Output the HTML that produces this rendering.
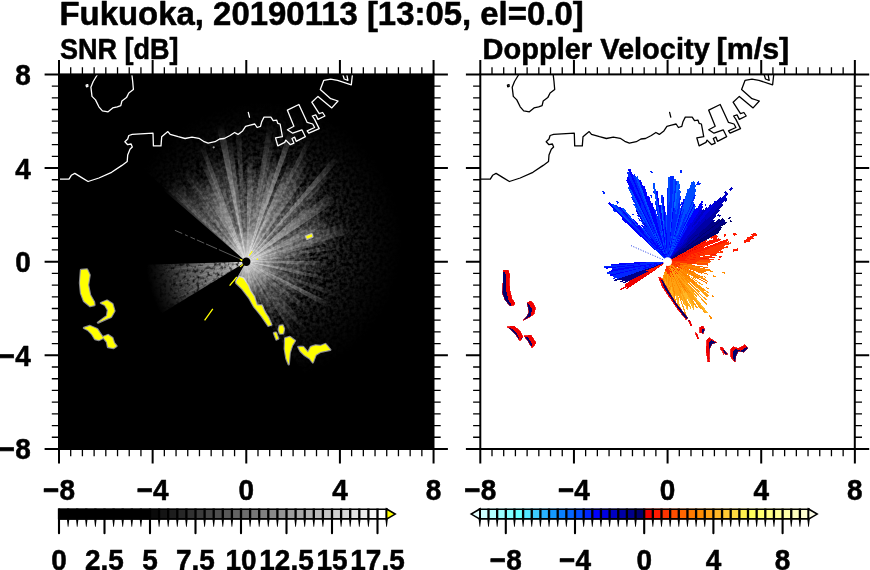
<!DOCTYPE html>
<html><head><meta charset="utf-8"><title>Fukuoka radar</title>
<style>html,body{margin:0;padding:0;background:#fff;overflow:hidden}svg{display:block}text{fill:#000}</style>
</head><body>
<svg width="870" height="570" viewBox="0 0 870 570">
<rect width="870" height="570" fill="#fff"/>
<rect x="59" y="74.4" width="374.5" height="374.6" fill="#000"/>
<rect x="480.3" y="74.4" width="374.5" height="374.6" fill="#fff"/>
<clipPath id="c1"><rect x="59" y="74.4" width="374.5" height="374.6"/></clipPath>
<clipPath id="c2"><rect x="480.3" y="74.4" width="374.5" height="374.6"/></clipPath>
<g clip-path="url(#c1)">
<radialGradient id="g50" gradientUnits="userSpaceOnUse" cx="246.3" cy="261.7" r="50"><stop offset="0" stop-color="#fff" stop-opacity="1.0"/><stop offset="0.04" stop-color="#fff" stop-opacity="0.97"/><stop offset="0.1" stop-color="#fff" stop-opacity="0.84"/><stop offset="0.2" stop-color="#fff" stop-opacity="0.7"/><stop offset="0.35" stop-color="#fff" stop-opacity="0.6"/><stop offset="0.5" stop-color="#fff" stop-opacity="0.5"/><stop offset="0.65" stop-color="#fff" stop-opacity="0.38"/><stop offset="0.8" stop-color="#fff" stop-opacity="0.23"/><stop offset="0.92" stop-color="#fff" stop-opacity="0.09"/><stop offset="1" stop-color="#fff" stop-opacity="0"/></radialGradient>
<radialGradient id="g65" gradientUnits="userSpaceOnUse" cx="246.3" cy="261.7" r="65"><stop offset="0" stop-color="#fff" stop-opacity="1.0"/><stop offset="0.04" stop-color="#fff" stop-opacity="0.97"/><stop offset="0.1" stop-color="#fff" stop-opacity="0.84"/><stop offset="0.2" stop-color="#fff" stop-opacity="0.7"/><stop offset="0.35" stop-color="#fff" stop-opacity="0.6"/><stop offset="0.5" stop-color="#fff" stop-opacity="0.5"/><stop offset="0.65" stop-color="#fff" stop-opacity="0.38"/><stop offset="0.8" stop-color="#fff" stop-opacity="0.23"/><stop offset="0.92" stop-color="#fff" stop-opacity="0.09"/><stop offset="1" stop-color="#fff" stop-opacity="0"/></radialGradient>
<radialGradient id="g80" gradientUnits="userSpaceOnUse" cx="246.3" cy="261.7" r="80"><stop offset="0" stop-color="#fff" stop-opacity="1.0"/><stop offset="0.04" stop-color="#fff" stop-opacity="0.97"/><stop offset="0.1" stop-color="#fff" stop-opacity="0.84"/><stop offset="0.2" stop-color="#fff" stop-opacity="0.7"/><stop offset="0.35" stop-color="#fff" stop-opacity="0.6"/><stop offset="0.5" stop-color="#fff" stop-opacity="0.5"/><stop offset="0.65" stop-color="#fff" stop-opacity="0.38"/><stop offset="0.8" stop-color="#fff" stop-opacity="0.23"/><stop offset="0.92" stop-color="#fff" stop-opacity="0.09"/><stop offset="1" stop-color="#fff" stop-opacity="0"/></radialGradient>
<radialGradient id="g95" gradientUnits="userSpaceOnUse" cx="246.3" cy="261.7" r="95"><stop offset="0" stop-color="#fff" stop-opacity="1.0"/><stop offset="0.04" stop-color="#fff" stop-opacity="0.97"/><stop offset="0.1" stop-color="#fff" stop-opacity="0.84"/><stop offset="0.2" stop-color="#fff" stop-opacity="0.7"/><stop offset="0.35" stop-color="#fff" stop-opacity="0.6"/><stop offset="0.5" stop-color="#fff" stop-opacity="0.5"/><stop offset="0.65" stop-color="#fff" stop-opacity="0.38"/><stop offset="0.8" stop-color="#fff" stop-opacity="0.23"/><stop offset="0.92" stop-color="#fff" stop-opacity="0.09"/><stop offset="1" stop-color="#fff" stop-opacity="0"/></radialGradient>
<radialGradient id="g110" gradientUnits="userSpaceOnUse" cx="246.3" cy="261.7" r="110"><stop offset="0" stop-color="#fff" stop-opacity="1.0"/><stop offset="0.04" stop-color="#fff" stop-opacity="0.97"/><stop offset="0.1" stop-color="#fff" stop-opacity="0.84"/><stop offset="0.2" stop-color="#fff" stop-opacity="0.7"/><stop offset="0.35" stop-color="#fff" stop-opacity="0.6"/><stop offset="0.5" stop-color="#fff" stop-opacity="0.5"/><stop offset="0.65" stop-color="#fff" stop-opacity="0.38"/><stop offset="0.8" stop-color="#fff" stop-opacity="0.23"/><stop offset="0.92" stop-color="#fff" stop-opacity="0.09"/><stop offset="1" stop-color="#fff" stop-opacity="0"/></radialGradient>
<radialGradient id="g125" gradientUnits="userSpaceOnUse" cx="246.3" cy="261.7" r="125"><stop offset="0" stop-color="#fff" stop-opacity="1.0"/><stop offset="0.04" stop-color="#fff" stop-opacity="0.97"/><stop offset="0.1" stop-color="#fff" stop-opacity="0.84"/><stop offset="0.2" stop-color="#fff" stop-opacity="0.7"/><stop offset="0.35" stop-color="#fff" stop-opacity="0.6"/><stop offset="0.5" stop-color="#fff" stop-opacity="0.5"/><stop offset="0.65" stop-color="#fff" stop-opacity="0.38"/><stop offset="0.8" stop-color="#fff" stop-opacity="0.23"/><stop offset="0.92" stop-color="#fff" stop-opacity="0.09"/><stop offset="1" stop-color="#fff" stop-opacity="0"/></radialGradient>
<radialGradient id="g140" gradientUnits="userSpaceOnUse" cx="246.3" cy="261.7" r="140"><stop offset="0" stop-color="#fff" stop-opacity="1.0"/><stop offset="0.04" stop-color="#fff" stop-opacity="0.97"/><stop offset="0.1" stop-color="#fff" stop-opacity="0.84"/><stop offset="0.2" stop-color="#fff" stop-opacity="0.7"/><stop offset="0.35" stop-color="#fff" stop-opacity="0.6"/><stop offset="0.5" stop-color="#fff" stop-opacity="0.5"/><stop offset="0.65" stop-color="#fff" stop-opacity="0.38"/><stop offset="0.8" stop-color="#fff" stop-opacity="0.23"/><stop offset="0.92" stop-color="#fff" stop-opacity="0.09"/><stop offset="1" stop-color="#fff" stop-opacity="0"/></radialGradient>
<radialGradient id="g160" gradientUnits="userSpaceOnUse" cx="246.3" cy="261.7" r="160"><stop offset="0" stop-color="#fff" stop-opacity="1.0"/><stop offset="0.04" stop-color="#fff" stop-opacity="0.97"/><stop offset="0.1" stop-color="#fff" stop-opacity="0.84"/><stop offset="0.2" stop-color="#fff" stop-opacity="0.7"/><stop offset="0.35" stop-color="#fff" stop-opacity="0.6"/><stop offset="0.5" stop-color="#fff" stop-opacity="0.5"/><stop offset="0.65" stop-color="#fff" stop-opacity="0.38"/><stop offset="0.8" stop-color="#fff" stop-opacity="0.23"/><stop offset="0.92" stop-color="#fff" stop-opacity="0.09"/><stop offset="1" stop-color="#fff" stop-opacity="0"/></radialGradient>
<radialGradient id="core" gradientUnits="userSpaceOnUse" cx="246.3" cy="261.7" r="34"><stop offset="0" stop-color="#fff" stop-opacity="0.7"/><stop offset="0.3" stop-color="#fff" stop-opacity="0.5"/><stop offset="0.65" stop-color="#fff" stop-opacity="0.25"/><stop offset="1" stop-color="#fff" stop-opacity="0"/></radialGradient>
<radialGradient id="glow" gradientUnits="userSpaceOnUse" cx="262.3" cy="241.7" r="140"><stop offset="0" stop-color="#fff" stop-opacity="0.3"/><stop offset="0.4" stop-color="#fff" stop-opacity="0.22"/><stop offset="0.62" stop-color="#fff" stop-opacity="0.12"/><stop offset="0.82" stop-color="#fff" stop-opacity="0.045"/><stop offset="1" stop-color="#fff" stop-opacity="0"/></radialGradient>
<filter id="grain" x="0" y="0" width="870" height="570" filterUnits="userSpaceOnUse"><feTurbulence type="fractalNoise" baseFrequency="0.3" numOctaves="2" seed="4" result="n"/><feColorMatrix in="n" type="matrix" values="0 0 0 0 0 0 0 0 0 0 0 0 0 0 0 2.6 0 0 0 -0.85" result="a"/><feComposite in="SourceGraphic" in2="a" operator="in"/></filter>
<clipPath id="cut"><path d="M0 0H870V570H445L239 281.8H0Z"/></clipPath>
<g clip-path="url(#cut)"><g filter="url(#grain)"><path d="M246.3 261.7L182.9 482.8A230 230 0 1 0 75.4 107.8Z" fill="url(#glow)"/></g></g>
<g clip-path="url(#cut)">
<path d="M246.3 261.7L226.4 307.6A50 50 0 0 0 229.1 308.6Z" fill="url(#g50)" fill-opacity="0.36"/>
<path d="M246.3 261.7L235.1 310.4A50 50 0 0 0 236.8 310.8Z" fill="url(#g50)" fill-opacity="0.43"/>
<path d="M246.3 261.7L246.6 311.7A50 50 0 0 0 249.3 311.6Z" fill="url(#g50)" fill-opacity="0.47"/>
<path d="M246.3 261.7L257.5 310.4A50 50 0 0 0 260.7 309.6Z" fill="url(#g50)" fill-opacity="0.51"/>
<path d="M246.3 261.7L241 311.4A50 50 0 0 0 243.6 311.6Z" fill="url(#g50)" fill-opacity="0.54"/>
<path d="M246.3 261.7L223.1 306A50 50 0 0 0 225.1 307Z" fill="url(#g50)" fill-opacity="0.57"/>
<path d="M246.3 261.7L233.9 310.1A50 50 0 0 0 235.3 310.5Z" fill="url(#g50)" fill-opacity="0.58"/>
<path d="M246.3 261.7L231.5 309.5A50 50 0 0 0 234.1 310.2Z" fill="url(#g50)" fill-opacity="0.62"/>
<path d="M246.3 261.7L238.8 311.1A50 50 0 0 0 241.1 311.4Z" fill="url(#g50)" fill-opacity="0.63"/>
<path d="M246.3 261.7L260.5 309.6A50 50 0 0 0 263 308.8Z" fill="url(#g50)" fill-opacity="0.7"/>
<path d="M246.3 261.7L251 311.5A50 50 0 0 0 253.1 311.2ZM246.3 261.7L252.9 311.2A50 50 0 0 0 256.1 310.7Z" fill="url(#g50)" fill-opacity="0.73"/>
<path d="M246.3 261.7L255.9 310.7A50 50 0 0 0 257.7 310.4Z" fill="url(#g50)" fill-opacity="0.77"/>
<path d="M246.3 261.7L250 326.6A65 65 0 0 0 252.5 326.4ZM246.3 261.7L308.7 279.8A65 65 0 0 0 309.6 276.3Z" fill="url(#g65)" fill-opacity="0.35"/>
<path d="M246.3 261.7L269.5 322.4A65 65 0 0 0 272.9 321ZM246.3 261.7L278 318.4A65 65 0 0 0 280.9 316.7Z" fill="url(#g65)" fill-opacity="0.37"/>
<path d="M246.3 261.7L298.6 300.3A65 65 0 0 0 300.8 297Z" fill="url(#g65)" fill-opacity="0.41"/>
<path d="M246.3 261.7L291.1 308.7A65 65 0 0 0 293 306.9ZM246.3 261.7L307.8 282.7A65 65 0 0 0 308.8 279.6Z" fill="url(#g65)" fill-opacity="0.46"/>
<path d="M246.3 261.7L294.1 305.7A65 65 0 0 0 296.2 303.3Z" fill="url(#g65)" fill-opacity="0.5"/>
<path d="M246.3 261.7L304.7 290.2A65 65 0 0 0 306 287.3Z" fill="url(#g65)" fill-opacity="0.52"/>
<path d="M246.3 261.7L233.8 325.5A65 65 0 0 0 236.7 326Z" fill="url(#g65)" fill-opacity="0.53"/>
<path d="M246.3 261.7L218.6 320.5A65 65 0 0 0 220.6 321.4Z" fill="url(#g65)" fill-opacity="0.57"/>
<path d="M246.3 261.7L213.8 318A65 65 0 0 0 216.3 319.4ZM246.3 261.7L274.4 320.3A65 65 0 0 0 276.4 319.3Z" fill="url(#g65)" fill-opacity="0.59"/>
<path d="M246.3 261.7L292.9 307A65 65 0 0 0 294.2 305.6ZM246.3 261.7L311.3 261.2A65 65 0 0 0 311.2 257.7Z" fill="url(#g65)" fill-opacity="0.6"/>
<path d="M246.3 261.7L276.2 319.4A65 65 0 0 0 278.2 318.3Z" fill="url(#g65)" fill-opacity="0.68"/>
<path d="M246.3 261.7L223.8 322.7A65 65 0 0 0 225.7 323.3ZM246.3 261.7L300.7 297.2A65 65 0 0 0 302.8 293.7Z" fill="url(#g65)" fill-opacity="0.72"/>
<path d="M246.3 261.7L310.2 273.6A65 65 0 0 0 310.6 271.2Z" fill="url(#g65)" fill-opacity="0.77"/>
<path d="M246.3 261.7L306 287.4A65 65 0 0 0 306.7 285.7ZM246.3 261.7L311 256.2A65 65 0 0 0 310.7 252.7Z" fill="url(#g65)" fill-opacity="0.79"/>
<path d="M246.3 261.7L225.5 323.3A65 65 0 0 0 227.3 323.8Z" fill="url(#g65)" fill-opacity="0.8"/>
<path d="M246.3 261.7L242.6 326.6A65 65 0 0 0 246.9 326.7ZM246.3 261.7L310.2 249.7A65 65 0 0 0 309.7 247.2Z" fill="url(#g65)" fill-opacity="0.81"/>
<path d="M246.3 261.7L278.8 334.8A80 80 0 0 0 281.1 333.7Z" fill="url(#g80)" fill-opacity="0.34"/>
<path d="M246.3 261.7L325.9 269.4A80 80 0 0 0 326.2 265.5Z" fill="url(#g80)" fill-opacity="0.38"/>
<path d="M246.3 261.7L325.7 271.6A80 80 0 0 0 325.9 269.2Z" fill="url(#g80)" fill-opacity="0.4"/>
<path d="M246.3 261.7L299.6 321.3A80 80 0 0 0 301.6 319.4Z" fill="url(#g80)" fill-opacity="0.44"/>
<path d="M246.3 261.7L325.4 273.6A80 80 0 0 0 325.7 271.4Z" fill="url(#g80)" fill-opacity="0.45"/>
<path d="M246.3 261.7L290.9 328.1A80 80 0 0 0 294.7 325.4Z" fill="url(#g80)" fill-opacity="0.47"/>
<path d="M246.3 261.7L294.5 325.5A80 80 0 0 0 296.7 323.8Z" fill="url(#g80)" fill-opacity="0.51"/>
<path d="M246.3 261.7L307.6 313A80 80 0 0 0 310.8 309Z" fill="url(#g80)" fill-opacity="0.55"/>
<path d="M246.3 261.7L324.2 279.9A80 80 0 0 0 325 276.1Z" fill="url(#g80)" fill-opacity="0.74"/>
<path d="M246.3 261.7L326.2 265.7A80 80 0 0 0 326.3 260.8Z" fill="url(#g80)" fill-opacity="0.8"/>
<path d="M246.3 261.7L341.1 256.1A95 95 0 0 0 340.9 253.4Z" fill="url(#g95)" fill-opacity="0.32"/>
<path d="M246.3 261.7L306 335.6A95 95 0 0 0 309.8 332.4Z" fill="url(#g95)" fill-opacity="0.36"/>
<path d="M246.3 261.7L327.7 212.7A95 95 0 0 0 325.1 208.7ZM246.3 261.7L247.8 166.7A95 95 0 0 0 242.3 166.8Z" fill="url(#g95)" fill-opacity="0.43"/>
<path d="M246.3 261.7L334.5 297A95 95 0 0 0 336.2 292.2Z" fill="url(#g95)" fill-opacity="0.44"/>
<path d="M246.3 261.7L296.7 342.2A95 95 0 0 0 299.5 340.4Z" fill="url(#g95)" fill-opacity="0.45"/>
<path d="M246.3 261.7L277.8 351.3A95 95 0 0 0 280.5 350.3Z" fill="url(#g95)" fill-opacity="0.48"/>
<path d="M246.3 261.7L238.6 167A95 95 0 0 0 235.2 167.3Z" fill="url(#g95)" fill-opacity="0.51"/>
<path d="M246.3 261.7L340.4 248.8A95 95 0 0 0 339.6 244ZM246.3 261.7L304.9 186.9A95 95 0 0 0 300.8 183.9Z" fill="url(#g95)" fill-opacity="0.55"/>
<path d="M246.3 261.7L330 216.7A95 95 0 0 0 327.6 212.5Z" fill="url(#g95)" fill-opacity="0.61"/>
<path d="M246.3 261.7L283.7 174.3A95 95 0 0 0 279.3 172.6Z" fill="url(#g95)" fill-opacity="0.63"/>
<path d="M246.3 261.7L328.8 308.7A95 95 0 0 0 330.4 305.9ZM246.3 261.7L339 240.8A95 95 0 0 0 337.9 236.4Z" fill="url(#g95)" fill-opacity="0.68"/>
<path d="M246.3 261.7L261 167.8A95 95 0 0 0 254.9 167.1Z" fill="url(#g95)" fill-opacity="0.72"/>
<path d="M246.3 261.7L190.5 184.8A95 95 0 0 0 186.1 188.1Z" fill="url(#g95)" fill-opacity="0.73"/>
<path d="M246.3 261.7L330.3 306.1A95 95 0 0 0 331.7 303.2Z" fill="url(#g95)" fill-opacity="0.79"/>
<path d="M246.3 261.7L332.3 221.4A95 95 0 0 0 329.9 216.5Z" fill="url(#g95)" fill-opacity="0.89"/>
<path d="M246.3 261.7L334.5 226.5A95 95 0 0 0 332.2 221.1ZM246.3 261.7L201.8 177.7A95 95 0 0 0 196.6 180.7Z" fill="url(#g95)" fill-opacity="0.9"/>
<path d="M246.3 261.7L319.5 201.1A95 95 0 0 0 316.7 198Z" fill="url(#g95)" fill-opacity="0.97"/>
<path d="M246.3 261.7L255.1 167.1A95 95 0 0 0 252.5 166.9ZM246.3 261.7L206.5 175.4A95 95 0 0 0 201.6 177.8Z" fill="url(#g95)" fill-opacity="1.0"/>
<path d="M246.3 261.7L176.9 176.4A110 110 0 0 0 172.5 180.1Z" fill="url(#g110)" fill-opacity="0.39"/>
<path d="M246.3 261.7L317 177.5A110 110 0 0 0 313.9 174.9ZM246.3 261.7L217.7 155.5A110 110 0 0 0 214.1 156.5Z" fill="url(#g110)" fill-opacity="0.43"/>
<path d="M246.3 261.7L328.1 188.1A110 110 0 0 0 323.8 183.7Z" fill="url(#g110)" fill-opacity="0.44"/>
<path d="M246.3 261.7L214.4 156.4A110 110 0 0 0 208.7 158.3ZM246.3 261.7L165.8 186.7A110 110 0 0 0 163.1 189.7Z" fill="url(#g110)" fill-opacity="0.54"/>
<path d="M246.3 261.7L223.1 154.2A110 110 0 0 0 217.4 155.5Z" fill="url(#g110)" fill-opacity="0.55"/>
<path d="M246.3 261.7L185.2 170.2A110 110 0 0 0 181.4 172.8Z" fill="url(#g110)" fill-opacity="0.56"/>
<path d="M246.3 261.7L189 167.7A110 110 0 0 0 184.9 170.4Z" fill="url(#g110)" fill-opacity="0.58"/>
<path d="M246.3 261.7L350.7 227.1A110 110 0 0 0 348.4 220.7ZM246.3 261.7L172.7 179.9A110 110 0 0 0 168.1 184.3Z" fill="url(#g110)" fill-opacity="0.59"/>
<path d="M246.3 261.7L168.3 184.1A110 110 0 0 0 165.6 186.9Z" fill="url(#g110)" fill-opacity="0.71"/>
<path d="M246.3 261.7L274.8 155.4A110 110 0 0 0 271.2 154.5Z" fill="url(#g110)" fill-opacity="0.72"/>
<path d="M246.3 261.7L352.4 232.7A110 110 0 0 0 350.6 226.8ZM246.3 261.7L253.7 151.9A110 110 0 0 0 247.7 151.7Z" fill="url(#g110)" fill-opacity="0.8"/>
<path d="M246.3 261.7L309.6 171.8A110 110 0 0 0 304 168Z" fill="url(#g110)" fill-opacity="0.86"/>
<path d="M246.3 261.7L337.7 200.6A110 110 0 0 0 333.6 194.7Z" fill="url(#g110)" fill-opacity="0.9"/>
<path d="M246.3 261.7L333.7 195A110 110 0 0 0 330.9 191.3Z" fill="url(#g110)" fill-opacity="0.91"/>
<path d="M246.3 261.7L205.1 159.7A110 110 0 0 0 200 161.9Z" fill="url(#g110)" fill-opacity="0.92"/>
<path d="M246.3 261.7L295.5 163.3A110 110 0 0 0 289.3 160.4ZM246.3 261.7L280.3 157.1A110 110 0 0 0 274.5 155.4Z" fill="url(#g110)" fill-opacity="1.0"/>
<path d="M246.3 261.7L334.6 173.3A125 125 0 0 0 330.5 169.3Z" fill="url(#g125)" fill-opacity="0.57"/>
<path d="M246.3 261.7L312.1 155.4A125 125 0 0 0 305.5 151.6Z" fill="url(#g125)" fill-opacity="0.64"/>
<path d="M246.3 261.7L275 140A125 125 0 0 0 270.6 139.1Z" fill="url(#g125)" fill-opacity="0.69"/>
<path d="M246.3 261.7L232 137.5A125 125 0 0 0 225.7 138.4Z" fill="url(#g125)" fill-opacity="0.71"/>
<path d="M246.3 261.7L203.8 144.1A125 125 0 0 0 199.1 145.9Z" fill="url(#g125)" fill-opacity="0.88"/>
<path d="M246.3 261.7L240.8 121.8A140 140 0 0 0 234.6 122.2Z" fill="url(#g140)" fill-opacity="0.44"/>
<path d="M246.3 261.7L273.9 124.4A140 140 0 0 0 267.6 123.3Z" fill="url(#g140)" fill-opacity="0.63"/>
<path d="M246.3 261.7L312.9 138.6A140 140 0 0 0 308.6 136.3Z" fill="url(#g140)" fill-opacity="0.7"/>
<path d="M246.3 261.7L340.9 158.5A140 140 0 0 0 336 154.2Z" fill="url(#g140)" fill-opacity="0.83"/>
<path d="M246.3 261.7L223.6 123.5A140 140 0 0 0 216.4 124.9Z" fill="url(#g140)" fill-opacity="0.95"/>
<path d="M246.3 261.7L295.3 130.5A140 140 0 0 0 289.2 128.4Z" fill="url(#g140)" fill-opacity="0.97"/>
<path d="M246.3 261.7L229.3 291.1A34 34 0 1 0 220.8 239.2Z" fill="url(#core)"/>
</g>
<radialGradient id="gw" gradientUnits="userSpaceOnUse" cx="246.3" cy="261.7" r="100"><stop offset="0" stop-color="#fff" stop-opacity="1"/><stop offset="0.07" stop-color="#fff" stop-opacity="0.85"/><stop offset="0.2" stop-color="#fff" stop-opacity="0.6"/><stop offset="0.45" stop-color="#fff" stop-opacity="0.42"/><stop offset="0.65" stop-color="#fff" stop-opacity="0.27"/><stop offset="0.85" stop-color="#fff" stop-opacity="0.1"/><stop offset="1" stop-color="#fff" stop-opacity="0"/></radialGradient>
<filter id="grain2" x="0" y="0" width="870" height="570" filterUnits="userSpaceOnUse"><feTurbulence type="fractalNoise" baseFrequency="0.3" numOctaves="2" seed="9" result="n"/><feColorMatrix in="n" type="matrix" values="0 0 0 0 0 0 0 0 0 0 0 0 0 0 0 2.2 0 0 0 -0.2" result="a"/><feComposite in="SourceGraphic" in2="a" operator="in"/></filter>
<g filter="url(#grain2)"><path d="M246.3 261.7L146.3 264.8A100 100 0 0 0 160.9 313.8Z" fill="url(#gw)"/><path d="M246.3 261.7L166.6 269.2A80 80 0 0 0 166.8 270.9ZM246.3 261.7L167.8 277A80 80 0 0 0 168 278.2ZM246.3 261.7L169.5 284.1A80 80 0 0 0 170.1 286ZM246.3 261.7L172.4 292.3A80 80 0 0 0 172.9 293.6ZM246.3 261.7L175.3 298.5A80 80 0 0 0 176 300Z" fill="url(#gw)" fill-opacity="0.35"/></g>
<path d="M246.3 261.7L174.9 230.3" stroke="#bbb" stroke-width="0.8" stroke-opacity="0.6" stroke-dasharray="30 2 12 2 8 2 5 3 3 3"/>
<path d="M81 270L87 269.4L89.6 275L88 285L90 295L94 302L94.4 305L90 306L84 301L81 293L80 283ZM101 303L107 300.6L112.4 304L114.4 311L111 317L107 318.6L98 322.6L107 316L108 310L105 305ZM84 328L90 326L97 329L101 335L103 338L99 340L95 339L92 334L88 330ZM103 337L108 335L112.4 338L114 343L116.4 346L113.6 348L108 347L107 342ZM236.2 282.8L242.4 289L249.1 297.7L254 306.4L261.7 316L268.4 325.7L271.3 324.7L268.4 318L264.6 312.2L261.7 305.4L256.9 305.4L254 296.7L250.1 291L248.2 286.1L243.3 278.4L239.5 277.1L237 280.3ZM279.6 326L282.6 325.4L284 329L283 333.4L280 333.6L278.8 330ZM274 333L276 332.6L278.2 338.6L276.4 339.4ZM285.2 338.3L289.7 336.9L294.9 340.8L292.2 345L289.7 352.7L288.7 364.3L286.4 358.5L284.8 348.9ZM298.4 346.9L303.2 346.9L308 352.7L310.9 346.9L315.7 345.4L320.6 346L325.4 344L330.2 349.8L325.4 350.8L320.6 351.8L315.7 354.7L312.8 362.4L309.9 358.5L304.2 354.7L300.3 350.8ZM306.2 236.2L311.7 234.2L312.4 236.6L307 238.8Z" fill="#fff" stroke="#fff" stroke-opacity="0.55" stroke-width="2.4" stroke-linejoin="round" fill-opacity="0.55"/>
<path d="M81 270L87 269.4L89.6 275L88 285L90 295L94 302L94.4 305L90 306L84 301L81 293L80 283ZM101 303L107 300.6L112.4 304L114.4 311L111 317L107 318.6L98 322.6L107 316L108 310L105 305ZM84 328L90 326L97 329L101 335L103 338L99 340L95 339L92 334L88 330ZM103 337L108 335L112.4 338L114 343L116.4 346L113.6 348L108 347L107 342ZM236.2 282.8L242.4 289L249.1 297.7L254 306.4L261.7 316L268.4 325.7L271.3 324.7L268.4 318L264.6 312.2L261.7 305.4L256.9 305.4L254 296.7L250.1 291L248.2 286.1L243.3 278.4L239.5 277.1L237 280.3ZM279.6 326L282.6 325.4L284 329L283 333.4L280 333.6L278.8 330ZM274 333L276 332.6L278.2 338.6L276.4 339.4ZM285.2 338.3L289.7 336.9L294.9 340.8L292.2 345L289.7 352.7L288.7 364.3L286.4 358.5L284.8 348.9ZM298.4 346.9L303.2 346.9L308 352.7L310.9 346.9L315.7 345.4L320.6 346L325.4 344L330.2 349.8L325.4 350.8L320.6 351.8L315.7 354.7L312.8 362.4L309.9 358.5L304.2 354.7L300.3 350.8ZM306.2 236.2L311.7 234.2L312.4 236.6L307 238.8Z" fill="#ff0"/>
<path d="M248.7 255.6L251.9 250.8L252.7 251.4L249.6 256ZM239.4 258.8L243 259.8L243.2 261.6L241 261ZM239.6 266.6L243.4 263.6L243.9 264.5L240.4 267.3ZM256.6 258.6L258 258.4L258.2 259.8L256.8 260Z" fill="#ff0"/>
<path d="M236.8 277L229.6 285.6M212.8 308.8L204.6 320.4" stroke="#ff0" stroke-width="1.3" fill="none"/>
<circle cx="213.7" cy="147.3" r="1.1" fill="#999"/>
<circle cx="246.3" cy="261.7" r="4.2" fill="#000"/>
<path d="M97.8 74L93.2 81.5L90.9 87.2L92 96.4L95.5 99.9L98.9 106.8L102.4 110.9L108.1 111.8L112.7 107.9L117.3 106.8L120.8 105.6L121.9 101L126.5 97.6L128.8 93L133.4 89.5L132.7 81.5L131.8 74M86.1 85.2L87.7 84.6L87.9 86.4L86.5 86.8ZM56.7 179.2L69 179.2L71.3 175.3L74.8 173.4L81.7 177.6L88.1 181.5L98.9 178L111.6 172.3L121.9 165.4L127.2 161.5L127.7 155L130 149.3L132.3 147L131.1 144L127.7 144.7L124.9 141.7L127.7 139L128.8 135.5L132.3 134.4L153 133.2L153.4 145.9L161 145.9L161.7 136.7L164.9 133.9L167.9 131.6L170.2 134.4L178.2 136.7L185.1 138.5L192 137.1L198.9 138.3L203.5 141.3L208.1 143.1L215 141.7L219.6 139L224.2 138.5L230 135.5L234.6 132.5L238 134.4L242.6 130.9L245.6 126.3L250.2 125.2L254.8 124L257.1 127.5L260.5 126.3L261.7 121.7L264 117.1L270.9 117.1L273.2 120.6L276.6 120.1L277.8 123.3L280.1 124L281.2 129.8L282.4 136.7L275.5 137.8L277.8 145.9L284.7 142.4L285.8 140.1L290.4 144.7L293.9 143.1L292 138.5L294.6 137.1L296.2 141.3L305.4 136.7L301.9 129.8L292.7 133.2L287.4 129.8L293.9 126.3L287.4 110.2L298.9 104.5L307.2 122.4L312.7 124L314.6 127.5L307.2 130.9L308.8 133.2L319.2 128.6L314.6 119.4L312.3 116L315.7 114.8L318 119.4L324.9 116L322.6 112.5L319.2 113.7L311.8 102.2L318 96.4L331.8 107.9L338 101L330.7 98.7L320.3 89.5L323.8 80.3L330.7 79.2L337.6 80.3L351.3 84.9L352.5 74M346.7 74L347.9 80.3L344.2 79L342.7 74M248.3 112.3L249.5 117.1" fill="none" stroke="#fff" stroke-width="1.3" stroke-linejoin="round" stroke-linecap="round"/>
</g>
<g clip-path="url(#c2)">
<g shape-rendering="crispEdges">
<path d="M670.4 259.6L686.5 247.5L686.1 247L670.3 259.5ZM686.3 247.6L705.1 233.6L704.3 232.6L685.9 247.1ZM704.9 233.7L723.7 219.6L722.5 218.2L704.2 232.7ZM670.5 259.7L687.1 248.3L686.7 247.8L670.4 259.6ZM729.1 219.4L731 218.1L730.1 216.7L728.1 218.1ZM670.5 259.8L687.6 248.6L687.2 248.1L670.5 259.7ZM687.4 248.7L707.3 235.7L706.6 234.7L687.1 248.2ZM707.1 235.9L727 222.9L726 221.3L706.5 234.8ZM670.6 259.8L686.2 250.1L685.9 249.6L670.5 259.8ZM686 250.2L704.2 238.9L703.6 238L685.7 249.7ZM704 239L722.2 227.7L721.3 226.3L703.4 238.1ZM730.4 222.4L732 221.4L731.1 220L729.5 221.1ZM670.6 259.9L685.9 250.8L685.6 250.4L670.5 259.8ZM685.7 250.9L703.6 240.4L703 239.4L685.5 250.5ZM703.4 240.5L721.2 229.9L720.4 228.5L702.8 239.5ZM670.6 260L685.4 251.6L685.2 251.2L670.6 259.9ZM685.3 251.7L702.5 242L702 241.1L685 251.3ZM702.3 242.1L719.6 232.4L718.8 231.1L701.8 241.2Z" fill="#00006e"/>
<path d="M670.2 259.3L683.3 247.6L683 247.2L670.1 259.3ZM683.2 247.7L698.5 234L697.8 233.2L682.8 247.3ZM670.2 259.4L683.8 247.7L683.5 247.3L670.2 259.3ZM699.4 234.4L715.2 220.8L714.1 219.6L698.7 233.6ZM670.3 259.5L683.9 248.3L683.5 247.9L670.2 259.4ZM699.4 235.6L715.2 222.6L714.2 221.3L698.7 234.7ZM670.3 259.5L685.6 247.6L685.2 247.1L670.3 259.4ZM685.4 247.7L703.1 233.8L702.4 232.9L685 247.2ZM703 233.9L720.7 220L719.6 218.6L702.2 233ZM670.4 259.6L686.9 247.8L686.5 247.3L670.4 259.6ZM686.7 247.9L705.9 234.2L705.2 233.2L686.4 247.5ZM705.8 234.3L725 220.5L723.9 219.1L705.1 233.3ZM686.9 248.5L706.3 235.2L705.6 234.2L686.6 248ZM706.1 235.3L725.5 222.1L724.4 220.6L705.4 234.3ZM664.3 262.8L643.5 269.9L643.7 270.6L664.3 262.9ZM643.6 269.9L614.2 279.9L614.7 281.3L643.9 270.5ZM664.3 262.9L645.8 269.7L646 270.2L664.3 263ZM645.9 269.6L619.3 279.4L619.8 280.6L646.2 270.2ZM664.3 263L646.9 269.8L647.1 270.3L664.4 263ZM647.1 269.7L621.9 279.6L622.4 280.8L647.3 270.2ZM646.4 270.5L620.4 281.4L620.9 282.6L646.6 271.1ZM648.2 270.3L624.3 280.9L624.8 282L648.4 270.8ZM647.7 271L623.3 282.4L623.9 283.6L648 271.5Z" fill="#00008a"/>
<path d="M686.9 241L706.9 219.7L705.8 218.7L686.4 240.5ZM670 259.2L686.1 242.7L685.6 242.2L670 259.1ZM686 242.8L704.8 223.6L703.8 222.7L685.5 242.4ZM704.6 223.8L723.4 204.6L721.9 203.2L703.6 222.8ZM725.4 202.3L727.4 200.3L726.1 199L724.1 201.1ZM670.1 259.2L685.1 244.5L684.6 244.1L670 259.2ZM684.9 244.7L702.4 227.6L701.5 226.7L684.5 244.2ZM702.3 227.7L719.8 210.6L718.4 209.3L701.4 226.8ZM670.1 259.3L684.1 246.2L683.7 245.8L670.1 259.2ZM683.9 246.4L700.2 231.1L699.4 230.3L683.5 245.9ZM700 231.3L716.3 216.1L715.1 214.8L699.2 230.4ZM698.3 234.1L713.7 220.4L712.6 219.2L697.6 233.3ZM718 216.3L719.3 215.1L718.3 214L717 215.2ZM683.7 247.9L699.5 234.3L698.8 233.5L683.3 247.4ZM719.2 217.2L720.9 215.7L719.9 214.6L718.2 216.1ZM683.7 248.4L699.6 235.4L698.9 234.6L683.4 248Z" fill="#0000a6"/>
<path d="M692.4 227.1L704.8 209.8L703.4 208.8L691.5 226.4ZM694.3 226L707.7 208.1L706.3 207.1L693.4 225.3ZM669.7 258.9L682.5 242.7L682 242.3L669.7 258.9ZM683.9 241.8L700.4 221.7L699.4 220.8L683.4 241.4ZM669.9 259L685.6 240.7L685 240.3L669.8 259ZM685.4 240.9L703.7 219.5L702.6 218.6L684.9 240.4ZM703.6 219.7L721.9 198.4L720.2 197L702.5 218.8ZM725.6 193.7L726.7 192.5L725.2 191.2L724.1 192.5ZM669.9 259.1L687.6 239.4L687 238.8L669.8 259ZM687.5 239.5L708.1 216.5L706.9 215.5L686.9 239ZM707.9 216.7L728.5 193.7L726.7 192.1L706.7 215.6ZM730.6 191.1L733.2 188.2L731.6 186.8L729 189.7ZM670 259.1L687.1 240.9L686.5 240.4L669.9 259.1ZM706.7 219.9L726.7 198.6L725 197L705.6 218.8Z" fill="#0000c4"/>
<path d="M647.1 227.2L637 210L635.7 210.8L646.2 227.7ZM679.6 242.4L691.5 223.2L690.5 222.6L679 242.1ZM669.5 258.7L679.7 243.1L679.2 242.8L669.4 258.7ZM679.6 243.2L691.5 225L690.5 224.4L679.1 242.9ZM691.4 225.2L703.3 206.9L701.9 206L690.4 224.6ZM669.6 258.8L679.5 244.2L679.1 243.9L669.5 258.7ZM679.4 244.4L691 227.4L690.1 226.8L679 244.1ZM690.9 227.6L702.5 210.6L701.2 209.7L690 227ZM705.7 205.7L706.6 204.3L705.4 203.5L704.4 204.9ZM669.6 258.8L680.2 244L679.8 243.7L669.5 258.8ZM680.1 244.2L692.5 226.9L691.6 226.3L679.7 243.8ZM669.7 258.9L681.2 243.5L680.7 243.2L669.6 258.8ZM681.1 243.7L694.5 225.8L693.5 225.2L680.6 243.4ZM682.4 242.8L697.2 223.9L696.2 223.2L681.9 242.5ZM697.1 224.1L711.9 205.2L710.4 204L696.1 223.3ZM669.8 259L684 241.7L683.5 241.2L669.7 258.9ZM700.3 221.8L716.8 201.7L715.3 200.4L699.2 221Z" fill="#0000e0"/>
<path d="M665.1 259.2L652.3 246.7L651.9 247.1L665 259.3ZM652.4 246.8L637.5 232.2L636.7 233L652 247.2ZM637.6 232.4L622.7 217.8L621.6 218.9L636.9 233.2ZM648.5 242.2L629 222.2L628 223.2L648 242.7ZM629.1 222.4L609.6 202.4L608 203.9L628.1 223.4ZM665.3 259L651.7 243.2L651.2 243.6L665.2 259.1ZM651.8 243.3L636 224.9L635 225.7L651.4 243.7ZM636.1 225L620.3 206.5L618.9 207.8L635.2 225.8ZM665.4 259L652.6 243.5L652.2 243.9L665.3 259ZM652.8 243.6L637.9 225.6L637 226.4L652.3 244ZM645 232.9L633.8 218.7L632.7 219.6L644.2 233.5ZM657.8 248.6L648.7 236.5L648 237L657.4 248.9ZM658.8 249.4L650.8 238.3L650.2 238.8L658.5 249.7ZM665.6 258.8L658.6 248.5L658.2 248.7L665.5 258.8ZM658.7 248.7L650.5 236.7L649.8 237.1L658.3 248.9ZM650.6 236.8L642.4 224.8L641.4 225.5L649.9 237.3ZM665.7 258.7L659.3 249L659 249.2L665.6 258.8ZM659.4 249.2L652 237.8L651.4 238.2L659.1 249.4ZM665.8 258.7L657.1 244L656.6 244.2L665.7 258.7ZM665.9 258.6L656.5 242L656 242.3L665.8 258.7ZM665.9 258.6L655.8 239.7L655.3 240L665.9 258.6ZM666.1 258.5L654.6 234.6L653.9 234.9L666 258.6ZM654.7 234.8L641.3 206.9L639.9 207.6L654 235.1ZM641.4 207.1L628 179.2L625.9 180.2L640 207.8ZM642 205.3L628.9 176.4L626.7 177.5L640.6 206ZM666.3 258.4L655.4 231.3L654.6 231.7L666.2 258.5ZM655.5 231.5L642.8 200L641.2 200.6L654.7 231.9ZM642.9 200.2L630.2 168.6L627.8 169.6L641.3 200.8ZM658.8 234.9L649.8 207.2L648.3 207.7L658.1 235.1ZM649.8 207.4L640.8 179.8L638.7 180.6L648.4 207.9ZM666.6 258.3L659.9 236.5L659.3 236.7L666.5 258.4ZM660 236.7L652.3 211.3L651 211.7L659.4 236.9ZM652.4 211.5L644.6 186.1L642.7 186.7L651.1 211.9ZM666.6 258.3L661.4 239.5L660.8 239.7L666.5 258.3ZM661.4 239.7L655.3 217.8L654.2 218.1L660.9 239.9ZM655.4 218L649.2 196.1L647.5 196.6L654.2 218.3ZM666.7 258.3L662.4 241.4L661.8 241.5L666.6 258.3ZM662.4 241.6L657.4 221.9L656.3 222.1L661.9 241.7ZM657.4 222.1L652.4 202.4L650.8 202.8L656.4 222.3ZM667.1 258.2L664.2 237.8L663.5 237.9L667 258.2ZM664.2 238L660.8 214.2L659.6 214.4L663.6 238.1ZM660.8 214.4L657.4 190.5L655.6 190.8L659.6 214.6ZM665.2 242.2L663 223.4L662 223.5L664.7 242.3ZM663 223.6L660.7 204.8L659.2 205L662 223.7ZM667.4 258.2L666.4 239.6L665.8 239.6L667.3 258.2ZM666.4 239.8L665.2 218.1L664.1 218.2L665.8 239.8ZM665.2 218.3L664 196.6L662.3 196.7L664.1 218.4ZM667.5 258.2L667 244.1L666.5 244.1L667.4 258.2ZM667 244.3L666.5 227.8L665.6 227.9L666.6 244.3ZM668 258.2L670.8 234.9L670.1 234.8L667.9 258.2ZM670.8 235.1L674.1 207.9L672.7 207.8L670.1 235ZM668.3 258.3L672.2 239.5L671.7 239.4L668.2 258.2ZM673.5 240.6L679.3 219.8L678.2 219.5L672.9 240.5ZM679.2 220L685.1 199.1L683.4 198.7L678.2 219.7ZM669.1 258.5L676.9 242.2L676.4 242L669 258.5ZM676.8 242.4L685.9 223.4L684.9 222.9L676.3 242.2ZM685.9 223.6L695 204.6L693.5 203.9L684.9 223.1ZM677 244L686.2 226.7L685.3 226.3L676.6 243.7ZM686.2 226.9L695.4 209.7L694 209L685.2 226.5ZM687.7 226L697.6 208.3L696.2 207.5L686.7 225.5ZM669.4 258.7L679.6 241.4L679 241.1L669.3 258.6ZM679.5 241.6L691.4 221.5L690.3 220.9L678.9 241.3ZM691.3 221.7L703.2 201.6L701.6 200.7L690.2 221.1ZM669.4 258.7L679.7 242.3L679.2 241.9L669.4 258.7ZM691.4 223.4L703.3 204.2L701.8 203.3L690.4 222.8ZM645.7 262.2L618.7 262.9L618.8 264.1L645.7 262.8ZM642.2 262.8L611 264.3L611.1 265.8L642.2 263.5ZM639.8 264.2L605.7 267.2L605.8 268.8L639.9 264.9ZM664.1 262.1L642.5 265L642.6 265.7L664.1 262.2ZM642.7 265L612.2 269.1L612.4 270.5L642.8 265.7ZM664.1 262.2L640.9 265.9L641 266.5L664.1 262.3ZM641.1 265.8L608.4 270.9L608.7 272.5L641.2 266.5ZM664.1 262.4L641.7 266.9L641.8 267.6L664.2 262.5ZM641.5 267.5L609.4 274.7L609.8 276.2L641.7 268.2ZM664.2 262.5L642.7 267.8L642.9 268.5L664.2 262.6ZM664.2 262.6L643.1 268.3L643.2 268.9L664.2 262.7ZM664.2 262.7L642.9 268.9L643.1 269.6L664.2 262.8Z" fill="#0000ff"/>
<path d="M616.2 211.7L613.5 209L612.3 210.2L615.2 212.8ZM665.1 259.2L648.4 242L647.9 242.6L665.1 259.2ZM649.6 242.5L631.4 223L630.4 224L649.1 243ZM665.2 259.1L650.5 242.6L650 243L665.2 259.1ZM650.6 242.7L633.3 223.5L632.4 224.4L650.1 243.2ZM633.5 223.7L616.2 204.4L614.8 205.8L632.5 224.6ZM605.7 193L603.2 190.2L601.7 191.6L604.2 194.3ZM618.9 202.6L617 200.3L615.6 201.4L617.6 203.7ZM665.4 258.9L655.9 246.8L655.5 247.1L665.3 259ZM656 246.9L644.9 232.7L644.1 233.3L655.6 247.2ZM665.5 258.9L657.7 248.4L657.3 248.7L665.4 258.9ZM648.8 236.6L639.7 224.5L638.7 225.2L648.1 237.1ZM665.5 258.8L658.7 249.3L658.4 249.5L665.5 258.9ZM634 215.1L632.9 213.5L631.8 214.2L633 215.8ZM652.1 238L644.7 226.6L643.8 227.2L651.5 238.4ZM640.6 220.6L639 218.1L638 218.7L639.8 221.2ZM665.7 258.7L658.3 246.8L657.9 247L665.7 258.8ZM658.4 247L649.8 233.1L649.1 233.6L658 247.2ZM649.9 233.3L641.3 219.4L640.2 220.1L649.2 233.7ZM639.2 216.2L638.2 214.6L637.2 215.3L638.2 216.8ZM657.2 244.1L647 227L646.1 227.5L656.7 244.4ZM656.6 242.1L645.6 222.7L644.6 223.3L656.1 242.4ZM655.9 239.9L644.1 217.8L643 218.5L655.4 240.2ZM644.2 218L632.5 196L630.8 196.9L643.1 218.6ZM655 233.9L641.9 205.1L640.5 205.8L654.3 234.3ZM655.1 232.4L642 201.9L640.5 202.6L654.3 232.8ZM642.1 202.1L629.1 171.5L626.7 172.6L640.6 202.8ZM666.3 258.4L656.8 233L656.1 233.3L666.3 258.4ZM656.9 233.2L645.7 203.6L644.2 204.2L656.1 233.5ZM645.8 203.8L634.7 174.3L632.4 175.1L644.3 204.4ZM666.5 258.4L658.7 234.7L658 234.9L666.4 258.4ZM666.8 258.3L663.3 243.4L662.8 243.5L666.7 258.3ZM663.4 243.6L659.3 226.3L658.4 226.5L662.9 243.7ZM659.4 226.5L655.3 209.2L654 209.5L658.5 226.7ZM652.5 197.8L651.8 194.8L650.4 195.2L651.2 198.2ZM666.9 258.3L664.2 245.5L663.8 245.6L666.8 258.3ZM661.2 231.1L658 216.3L656.9 216.6L660.4 231.3ZM656.8 211.1L656.5 209.6L655.4 209.8L655.7 211.4ZM666.9 258.2L663.7 240.9L663.1 241L666.8 258.3ZM663.7 241.1L659.9 220.9L658.9 221.1L663.2 241.2ZM660 221.1L656.2 200.8L654.6 201.2L658.9 221.3ZM654.5 192.9L654.1 190.8L652.6 191.1L653 193.2ZM667 258.2L663.3 235.5L662.6 235.6L666.9 258.2ZM652.8 173.2L652.4 170.9L650.4 171.2L650.8 173.5ZM667.2 258.2L665.2 242L664.7 242.1L667.1 258.2ZM667.3 258.2L665.9 239.2L665.3 239.2L667.2 258.2ZM665.9 239.4L664.2 217.3L663 217.4L665.3 239.4ZM664.2 217.5L662.5 195.3L660.8 195.5L663 217.6ZM666.5 228L665.9 211.6L664.6 211.7L665.6 228.1ZM667.5 258.2L667.4 245L667 245L667.5 258.2ZM667.4 245.2L667.2 229.9L666.4 229.9L667 245.2ZM667.6 258.2L667.8 237L667.2 237L667.5 258.2ZM667.8 237.2L668.1 212.5L666.8 212.5L667.2 237.2ZM668.1 212.7L668.4 188L666.5 188L666.8 212.7ZM667.7 258.2L668.5 233.6L667.8 233.6L667.6 258.2ZM668.5 233.8L669.4 205.1L668 205.1L667.8 233.8ZM667.8 258.2L669.1 233.5L668.4 233.5L667.7 258.2ZM669.1 233.7L670.7 205L669.2 204.9L668.4 233.7ZM670.7 205.2L672.2 176.5L670 176.4L669.2 205.1ZM667.8 258.2L669.7 233.4L669 233.4L667.8 258.2ZM669.7 233.6L671.9 204.7L670.5 204.6L669 233.6ZM671.9 204.9L674.1 176L671.9 175.9L670.4 204.8ZM667.9 258.2L670.3 234.2L669.6 234.2L667.8 258.2ZM674 208.1L677.3 181L675.2 180.8L672.6 208ZM668.1 258.2L671.4 235L670.7 234.9L668 258.2ZM671.4 235.2L675.2 208.2L673.8 208L670.7 235.1ZM671.8 235.9L676.2 209.7L674.8 209.5L671.2 235.8ZM682 173.4L682.5 169.9L680.5 169.6L680 173.1ZM668.2 258.2L672.1 237.8L671.4 237.7L668.1 258.2ZM672 238L676.5 214.2L675.2 214L671.4 237.9ZM672.2 239.7L676.8 218L675.6 217.7L671.6 239.6ZM676.7 218.1L681.3 196.4L679.6 196L675.6 217.9ZM668.4 258.3L672.2 241.9L671.7 241.8L668.3 258.3ZM672.1 242.1L676.6 223L675.6 222.8L671.6 242ZM676.5 223.2L681 204.2L679.5 203.8L675.5 223ZM668.4 258.3L672.3 243.1L671.9 243L668.4 258.3ZM682.1 204.7L682.8 201.8L681.5 201.5L680.8 204.4ZM668.5 258.3L673.5 240.4L673 240.3L668.4 258.3ZM674.8 237.8L682.2 213.6L680.9 213.3L674.2 237.6ZM668.7 258.4L676.2 235.3L675.5 235.1L668.6 258.3ZM676.1 235.5L684.9 208.6L683.6 208.2L675.5 235.3ZM668.8 258.4L677.1 236.4L676.4 236.2L668.7 258.4ZM668.9 258.4L677.2 237.7L676.6 237.4L668.8 258.4ZM677.1 237.9L686.8 213.7L685.6 213.2L676.5 237.6ZM698.1 185.2L699.5 181.6L697.8 180.9L696.4 184.5ZM677 239.7L686.4 217.5L685.3 217.1L676.4 239.4ZM686.3 217.7L695.8 195.6L694.1 194.9L685.2 217.2ZM699.9 185.5L700.9 183.3L699.1 182.6L698.3 184.8ZM669 258.5L676.8 241.4L676.2 241.2L668.9 258.5ZM676.7 241.6L685.7 221.7L684.6 221.3L676.1 241.4ZM669.2 258.6L677.1 243.8L676.7 243.6L669.1 258.6ZM669.3 258.6L677.9 243.4L677.4 243.1L669.2 258.6ZM677.8 243.6L687.7 225.8L686.8 225.3L677.3 243.3ZM664.1 261.8L645.5 262.2L645.5 262.8L664.1 261.9ZM664.1 261.8L642 262.9L642 263.5L664.1 261.9ZM664.1 261.9L638.7 263.6L638.8 264.4L664.1 262ZM638.9 263.6L603.7 266L603.9 267.7L639 264.4ZM664.1 262L639.6 264.2L639.7 264.9L664.1 262.1ZM664.1 262.1L642.6 264.5L642.7 265.1L664.1 262.2ZM642.8 264.5L612.3 267.9L612.5 269.3L642.9 265.1ZM664.1 262.3L640.2 266.6L640.4 267.3L664.2 262.4ZM640.4 266.5L607.1 272.5L607.4 274.1L640.6 267.2ZM641.9 266.8L610.3 273.2L610.6 274.7L642 267.5ZM664.2 262.4L641.3 267.6L641.5 268.3L664.2 262.5ZM642.9 267.8L612.5 275.3L612.9 276.7L643 268.4ZM643.2 268.3L613.3 276.4L613.7 277.8L643.4 268.9ZM643.1 268.9L612.9 277.8L613.3 279.2L643.2 269.5ZM664.2 262.7L644.5 269L644.7 269.6L664.3 262.8ZM644.6 269L616.4 277.9L616.9 279.3L644.8 269.6Z" fill="#0026ff"/>
<path d="M665.2 259.1L649.5 242.4L649 242.9L665.1 259.2ZM631.5 223.2L613.2 203.6L611.7 205.1L630.5 224.1ZM638.1 225.7L623.3 207.7L621.9 208.8L637.1 226.5ZM651 238.5L643 227.4L642.1 228L650.4 238.9ZM645.7 222.9L634.8 203.5L633.3 204.4L644.7 223.5ZM666 258.6L654.9 236.8L654.3 237.1L665.9 258.6ZM655 236.9L642.2 211.5L640.9 212.2L654.4 237.3ZM642.2 211.7L629.4 186.3L627.4 187.3L641 212.4ZM666.1 258.5L654.9 233.7L654.2 234.1L666.1 258.5ZM666.2 258.5L655 232.3L654.3 232.6L666.1 258.5ZM666.4 258.4L657.7 233.6L657 233.9L666.3 258.4ZM657.8 233.8L647.6 204.9L646.2 205.5L657.1 234.1ZM647.7 205.1L637.5 176.3L635.3 177.1L646.2 205.7ZM664.2 245.7L661.1 230.9L660.3 231.1L663.8 245.8ZM663.3 235.7L658.9 209.2L657.6 209.5L662.6 235.8ZM658.9 209.4L654.6 182.9L652.5 183.3L657.6 209.7ZM667.2 258.2L665.6 242L665.1 242L667.1 258.2ZM665.7 242.2L663.8 223.3L662.8 223.4L665.1 242.2ZM667.2 230.1L667.1 214.7L665.8 214.7L666.4 230.1ZM669.4 205.3L670.4 176.7L668.1 176.6L668 205.3ZM670.3 234.4L673 206.5L671.6 206.4L669.6 234.4ZM673 206.7L675.7 178.8L673.6 178.6L671.6 206.6ZM668.1 258.2L671.9 235.7L671.2 235.6L668.1 258.2ZM676.1 209.9L680.4 183.7L678.4 183.4L674.8 209.7ZM676.4 214.4L680.9 190.6L679.1 190.3L675.2 214.2ZM672.3 243.3L676.8 225.6L675.9 225.4L671.8 243.2ZM676.8 225.8L681.3 208.2L679.9 207.8L675.8 225.6ZM668.6 258.3L674.9 237.6L674.3 237.4L668.5 258.3ZM682.1 213.8L689.4 189.7L687.5 189.1L680.8 213.5ZM684.9 208.8L693.7 182L691.6 181.3L683.5 208.4ZM668.7 258.4L676.8 235.3L676.1 235.1L668.7 258.3ZM676.8 235.5L686.2 208.7L684.8 208.2L676.1 235.3ZM686.1 208.9L695.6 182L693.5 181.3L684.8 208.4ZM677 236.6L686.7 211L685.3 210.5L676.4 236.4ZM686.6 211.2L696.2 185.5L694.2 184.8L685.3 210.7ZM686.8 213.9L696.5 189.7L694.6 189L685.5 213.4ZM669 258.5L677.1 239.5L676.5 239.2L668.9 258.4ZM685.6 221.9L694.6 202.1L693 201.4L684.5 221.5ZM669.2 258.6L677.1 242.8L676.6 242.6L669.1 258.5ZM677.1 243L686.4 224.6L685.4 224.2L676.6 242.7ZM686.3 224.8L695.6 206.5L694.1 205.8L685.3 224.3Z" fill="#004cff"/>
<path d="M663.8 223.5L662 204.6L660.5 204.7L662.8 223.6ZM675.2 208.4L679 181.4L676.9 181.1L673.8 208.2Z" fill="#0566ff"/>
<path d="M693.6 248.5L706.1 242.1L705.6 241.1L693.3 247.8ZM670.7 260.2L683 254.3L682.8 253.9L670.7 260.1ZM682.8 254.4L697.1 247.5L696.7 246.8L682.6 254ZM670.8 260.2L684.9 253.8L684.7 253.4L670.7 260.2ZM685.3 254.1L702.4 246.8L702 245.9L685.1 253.7ZM670.8 260.4L686.1 254.2L685.9 253.8L670.8 260.3ZM670.9 260.6L688.1 255L687.9 254.4L670.9 260.5ZM650.2 270.3L628.8 280.9L629.4 281.9L650.5 270.7ZM648.2 271.8L624.4 284.3L625 285.4L648.5 272.3ZM648.5 272.2L625.1 285.1L625.7 286.2L648.8 272.7ZM646.2 274.1L619.9 289.3L620.7 290.6L646.5 274.6ZM664.6 263.5L649.4 272.8L649.7 273.3L664.6 263.6ZM649.5 272.7L627.3 286.2L628 287.3L649.8 273.1ZM664.6 263.6L648.5 273.9L648.8 274.4L664.7 263.6ZM648.6 273.8L625.3 288.7L626 289.8L649 274.3Z" fill="#ee0000"/>
<path d="M670.7 260L681.7 254.1L681.5 253.8L670.6 260ZM681.5 254.2L694.4 247.4L694 246.7L681.3 253.9ZM694.2 247.5L707 240.6L706.4 239.6L693.8 246.8ZM711 239.1L717.1 236L716.1 234.2L710.2 237.6ZM670.7 260.1L681.5 254.6L681.3 254.3L670.7 260ZM681.3 254.7L693.8 248.4L693.4 247.7L681.1 254.4ZM713.7 239L717.9 236.9L716.9 235.2L712.9 237.3ZM696.9 247.6L711.1 240.8L710.6 239.7L696.5 246.9ZM684.7 253.9L701.2 246.5L700.8 245.6L684.5 253.5ZM701 246.5L717.4 239.1L716.8 237.8L700.6 245.7ZM724.5 236.7L726.3 235.9L725.4 233.8L723.5 234.7ZM670.8 260.3L685.5 254L685.3 253.6L670.8 260.2ZM702.2 246.9L719.3 239.6L718.7 238.3L701.8 246ZM685.9 254.3L703.7 247.2L703.3 246.2L685.7 253.8ZM703.5 247.2L721.3 240.1L720.8 238.7L703.2 246.3ZM734 235.9L737 234.7L736 232.3L733 233.6ZM670.9 260.4L680.9 256.7L680.8 256.3L670.8 260.4ZM680.7 256.7L692.4 252.3L692.1 251.7L680.6 256.4ZM692.2 252.4L703.9 248L703.5 247.1L692 251.8ZM670.9 260.5L688.2 254.4L688 253.9L670.9 260.4ZM688 254.5L708.2 247.4L707.8 246.3L687.8 254ZM708 247.5L728.2 240.4L727.6 238.8L707.6 246.4ZM687.9 255L707.9 248.5L707.5 247.4L687.7 254.5ZM707.7 248.6L727.7 242L727.1 240.4L707.3 247.5ZM670.9 260.7L688.7 255.3L688.5 254.7L670.9 260.6ZM688.5 255.3L709.1 249.1L708.8 248L688.3 254.8ZM752 237.1L757 235.7L756 232.5L751.1 234.1ZM671 260.7L689.1 255.6L689 255.1L670.9 260.6ZM747.5 240.3L753.7 238.7L752.8 235.6L746.7 237.5ZM671 260.8L687.1 256.7L686.9 256.2L670.9 260.7ZM686.9 256.7L705.7 251.9L705.4 250.9L686.8 256.2ZM744.3 243L750.5 241.5L749.7 238.5L743.5 240.3ZM671 260.9L688.2 256.9L688.1 256.3L671 260.8ZM671 261L686.6 257.7L686.5 257.2L671 260.9ZM686.4 257.7L704.5 253.9L704.3 253L686.3 257.2ZM671 261L685.6 258.3L685.5 257.8L671 260.9ZM671 261.1L686.7 258.5L686.6 258L671 261ZM733.2 251.6L738 250.9L737.6 248.4L732.8 249.3ZM671 261.2L680 259.9L680 259.6L671 261.1ZM679.8 259.9L690.3 258.4L690.2 257.9L679.8 259.6ZM690.1 258.5L700.5 257L700.4 256.1L690 257.9ZM711 256L716 255.3L715.7 253.6L710.7 254.5ZM671.1 261.3L685.1 259.6L685 259.1L671 261.2ZM671.1 261.3L683.6 260.1L683.6 259.7L671.1 261.2ZM671.1 261.4L684.3 260.4L684.2 260L671.1 261.3ZM684.1 260.4L699.4 259.2L699.3 258.4L684 260ZM699.2 259.3L714.6 258.1L714.5 256.9L699.1 258.4ZM719.3 257.6L722.4 257.4L722.3 256.2L719.2 256.5ZM671.1 261.5L682.4 260.9L682.3 260.5L671.1 261.4ZM682.2 260.9L695.3 260.2L695.3 259.4L682.1 260.5ZM718.1 259.9L720.1 259.8L720.1 258.7L718.1 258.8ZM664.3 263L646.2 270.6L646.5 271.1L664.4 263.1ZM664.4 263.1L648 270.4L648.2 270.9L664.4 263.2ZM664.4 263.2L647.6 271.1L647.8 271.6L664.5 263.2ZM664.4 263.2L650 270.4L650.3 270.8L664.5 263.3ZM664.5 263.3L648 271.9L648.3 272.4L664.5 263.4ZM664.5 263.4L648.4 272.3L648.7 272.8L664.6 263.4ZM664.6 263.4L646 274.2L646.4 274.7L664.6 263.5Z" fill="#ff1a00"/>
<path d="M708.9 249.1L729.6 242.9L729.1 241.3L708.6 248.1ZM688.9 255.7L710.1 249.8L709.8 248.7L688.8 255.1ZM709.9 249.8L731.1 243.9L730.6 242.3L709.6 248.7ZM705.5 252L724.2 247.2L723.8 245.7L705.2 251ZM688.1 256.9L708.2 252.2L707.9 251.2L687.9 256.4ZM708 252.3L728.1 247.6L727.7 246L707.7 251.2ZM704.3 254L722.4 250.1L722.1 248.7L704.1 253ZM685.4 258.3L702.4 255.2L702.2 254.2L685.3 257.9ZM702.2 255.2L719.1 252L718.9 250.7L702 254.3ZM686.5 258.6L704.8 255.5L704.6 254.6L686.4 258.1ZM704.6 255.6L722.8 252.6L722.6 251.1L704.4 254.6ZM684.9 259.6L701.3 257.6L701.2 256.7L684.9 259.1ZM701.1 257.6L717.4 255.7L717.3 254.4L701 256.8ZM683.4 260.1L698 258.7L698 257.9L683.4 259.7ZM697.8 258.7L712.5 257.3L712.3 256.1L697.8 257.9ZM695.1 260.2L708.2 259.5L708.2 258.4L695.1 259.5ZM671.1 261.6L684.2 261.1L684.2 260.7L671.1 261.5ZM684 261.1L699.4 260.6L699.3 259.8L684 260.7ZM699.2 260.6L714.5 260.1L714.4 258.9L699.1 259.8ZM671.1 261.6L682.8 261.5L682.8 261.1L671.1 261.6ZM682.6 261.5L696.3 261.4L696.3 260.6L682.6 261.1ZM671.1 261.7L683.1 261.8L683.1 261.4L671.1 261.6ZM682.9 261.8L696.9 262L696.9 261.2L682.9 261.4ZM682.7 262.2L696.4 262.6L696.4 261.9L682.7 261.8ZM671.1 261.9L682.3 262.5L682.3 262.1L671.1 261.8ZM682.1 262.5L695.2 263.2L695.2 262.5L682.1 262.1ZM671.1 261.9L682.4 262.8L682.4 262.4L671.1 261.9ZM682.2 262.8L695.4 263.8L695.5 263.1L682.2 262.4ZM681.9 263.1L694.8 264.4L694.9 263.6L682 262.7ZM671.1 262.1L677.6 262.9L677.6 262.6L671.1 262ZM671 262.2L678.2 263.2L678.3 262.9L671.1 262.1ZM671 262.2L682.2 264.1L682.2 263.7L671 262.2ZM671 262.3L679.2 263.9L679.3 263.6L671 262.2ZM671 262.5L681.6 265.3L681.7 264.9L671 262.5ZM671 262.6L681.5 265.6L681.6 265.2L671 262.5ZM670.9 262.8L682.2 266.5L682.3 266.1L670.9 262.7ZM670.9 262.8L680.4 266.2L680.5 265.8L670.9 262.8ZM670.9 262.9L676.1 264.9L676.2 264.7L670.9 262.8ZM670.8 263L678 265.9L678.1 265.6L670.9 262.9ZM670.8 263.1L678.3 266.3L678.4 266L670.8 263ZM670.8 263.1L680.6 267.6L680.8 267.3L670.8 263ZM670.7 263.3L681.8 268.9L682 268.5L670.7 263.2ZM670.7 263.3L679.2 267.9L679.4 267.6L670.7 263.2ZM670.6 263.4L681.7 269.6L681.9 269.3L670.7 263.3ZM670.6 263.5L678.2 267.9L678.3 267.7L670.6 263.4ZM670.5 263.7L680.2 270.3L680.4 270L670.5 263.6ZM670.4 263.8L678.2 269.7L678.4 269.4L670.4 263.7ZM670.3 263.9L680.4 272.2L680.7 271.9L670.3 263.8ZM670.1 264.1L676.2 269.8L676.5 269.6L670.2 264ZM670.1 264.1L678.9 272.7L679.2 272.4L670.1 264.1ZM670 264.2L675.5 270.2L675.8 270L670 264.2ZM669.9 264.3L677.1 272.8L677.4 272.5L669.9 264.3ZM669.8 264.4L678 274.3L678.3 274.1L669.9 264.3ZM669.5 264.6L676.6 275.5L676.9 275.2L669.6 264.6ZM668.8 265L673.4 277.2L673.8 277L668.9 264.9ZM668.7 265L672.5 275.7L672.9 275.5L668.8 265ZM668.6 265L671.4 274.4L671.8 274.3L668.7 265ZM668.5 265.1L671.5 275.7L671.9 275.6L668.6 265ZM668.3 265.1L670.3 274.5L670.6 274.4L668.4 265.1ZM668.2 265.1L670.5 277.2L670.9 277.2L668.3 265.1ZM668.2 265.1L670.1 276.7L670.5 276.7L668.2 265.1ZM667.9 265.2L668.9 275.4L669.3 275.4L668 265.2ZM667.8 265.2L668.6 275L668.9 275L667.9 265.2ZM667.8 265.2L668.3 274.7L668.6 274.6L667.9 265.2ZM667.7 265.2L668 274.3L668.3 274.3L667.8 265.2ZM667.6 265.2L667.7 274L668 274L667.7 265.2ZM667.5 265.2L667.4 273.7L667.8 273.7L667.6 265.2ZM667.5 265.2L667.2 273.5L667.5 273.5L667.6 265.2ZM667.4 265.2L667 273.2L667.3 273.2L667.5 265.2ZM667.3 265.2L666.7 273L667 273L667.4 265.2ZM667.2 265.2L666.5 272.7L666.8 272.7L667.3 265.2ZM667.1 265.1L666.1 272.3L666.3 272.3L667.2 265.2ZM667 265.1L665.9 272.1L666.1 272.1L667.1 265.1ZM666.9 265.1L665.7 271.9L665.9 271.9L667 265.1ZM666.9 265.1L665.5 271.7L665.7 271.7L666.9 265.1ZM666.8 265.1L665.3 271.5L665.6 271.5L666.9 265.1ZM666.7 265.1L665.1 271.3L665.4 271.4L666.8 265.1ZM666.6 265.1L664.9 271.1L665.2 271.2L666.7 265.1ZM666.6 265L664.8 270.9L665 271L666.7 265.1Z" fill="#ff3300"/>
<path d="M696.1 261.4L709.7 261.2L709.7 260.1L696.1 260.6ZM696.7 262L710.7 262.1L710.7 261L696.7 261.2ZM671.1 261.8L682.9 262.2L682.9 261.8L671.1 261.7ZM695 263.2L708 263.9L708.1 262.8L695 262.5ZM695.2 263.8L708.4 264.8L708.5 263.7L695.3 263.1ZM671.1 262L682.1 263.1L682.2 262.7L671.1 261.9ZM694.6 264.3L707.5 265.6L707.6 264.6L694.7 263.6ZM671 262.4L682.7 264.9L682.8 264.5L671 262.3ZM671 262.5L683.8 265.5L683.9 265L671 262.4ZM670.9 262.7L680.6 265.6L680.7 265.3L671 262.6ZM670.7 263.2L681.3 268.3L681.5 267.9L670.8 263.1ZM670.6 263.5L676.5 267.2L676.6 267L670.6 263.5ZM670.5 263.6L675.6 266.9L675.7 266.7L670.6 263.5ZM670.4 263.7L676.3 267.9L676.5 267.7L670.5 263.6ZM669.7 264.4L677.1 273.8L677.4 273.5L669.8 264.4ZM669.2 264.8L674.5 275.4L674.9 275.2L669.2 264.8ZM668.1 265.1L669.6 275.5L669.9 275.5L668.2 265.1ZM668 265.2L669.3 275.8L669.7 275.8L668.1 265.1ZM667.2 265.2L666.3 272.5L666.6 272.5L667.3 265.2Z" fill="#ff4d00"/>
<path d="M696.2 262.6L710 263.1L710 262L696.2 261.9ZM677.4 262.9L685 263.8L685 263.3L677.4 262.6ZM684.8 263.8L692.4 264.7L692.5 264L684.8 263.3ZM682 264.1L695 266.2L695.1 265.5L682.1 263.7ZM694.8 266.2L707.8 268.3L707.9 267.3L694.9 265.5ZM679.1 263.8L688.6 265.6L688.7 265.1L679.1 263.5ZM681.3 265.5L693.5 268.9L693.7 268.3L681.4 265.2ZM680.2 266.1L691.2 270L691.4 269.4L680.3 265.8ZM680.5 267.5L691.9 272.7L692.2 272.1L680.6 267.2Z" fill="#ff6600"/>
<path d="M678 263.2L686.4 264.4L686.5 263.9L678.1 262.9ZM686.2 264.3L694.6 265.5L694.6 264.8L686.3 263.9ZM688.4 265.6L698 267.4L698.1 266.6L688.5 265ZM682.5 264.8L696.2 267.7L696.4 267L682.6 264.4ZM696 267.7L709.7 270.5L709.9 269.4L696.2 266.9ZM681.5 265.2L693.9 268.4L694 267.7L681.5 264.9ZM693.7 268.4L706.1 271.5L706.3 270.5L693.8 267.7ZM693.4 268.9L705.6 272.3L705.9 271.3L693.5 268.2ZM680.4 265.6L691.6 269L691.8 268.3L680.5 265.2ZM691.4 268.9L702.7 272.3L702.9 271.4L691.6 268.3ZM682 266.4L695.1 270.7L695.3 270L682.1 266ZM694.9 270.6L708 274.9L708.3 273.8L695.1 269.9ZM691 269.9L702.1 273.8L702.4 272.9L691.2 269.3ZM675.9 264.8L682 267.1L682.1 266.7L676 264.6ZM677.8 265.8L686.2 269.2L686.4 268.7L677.9 265.5ZM686 269.1L694.4 272.4L694.7 271.7L686.2 268.6ZM678.1 266.2L686.9 269.9L687.1 269.4L678.2 265.9ZM691.8 272.6L703.2 277.8L703.7 276.9L692 272ZM681.7 268.8L694.6 275.4L695 274.7L681.8 268.4ZM694.4 275.3L707.4 281.8L707.9 280.8L694.8 274.6ZM681.5 269.5L694.4 276.8L694.8 276.1L681.7 269.2ZM694.3 276.7L707.2 284L707.7 282.9L694.6 276ZM678.1 269.5L687.2 276.4L687.6 275.9L678.3 269.3ZM670.3 263.8L681.8 272.8L682.1 272.4L670.4 263.8ZM681.6 272.7L694.9 283.1L695.5 282.4L681.9 272.3ZM676.5 276.8L685 291.2L685.8 290.7L676.9 276.6Z" fill="#ff7a00"/>
<path d="M700.6 266.3L703.2 266.7L703.3 265.9L700.7 265.6ZM722.2 273L724.7 273.6L725 272.3L722.5 271.9ZM683.6 265.4L698.5 268.9L698.7 268.1L683.7 265ZM698.3 268.8L713.2 272.3L713.4 271.1L698.5 268ZM713 276.4L715.4 277.2L715.7 276.2L713.3 275.4ZM681.8 267L687.9 269.3L688 268.8L681.9 266.7ZM686.7 269.8L695.4 273.6L695.7 272.8L686.9 269.3ZM704 277.1L705.5 277.8L705.8 276.9L704.3 276.3ZM681.1 268.2L693.4 274.1L693.7 273.4L681.3 267.8ZM679 267.8L689 273.1L689.3 272.6L679.2 267.5ZM688.8 273L698.8 278.3L699.2 277.5L689.1 272.5ZM678 267.8L686.8 273.1L687.1 272.6L678.2 267.6ZM683 271.3L689.9 275.6L690.3 275L683.3 270.9ZM692.9 277.3L695.7 279.1L696.1 278.5L693.2 276.8ZM681.2 270.6L687.1 274.4L687.4 273.9L681.4 270.2ZM680 270.2L691.3 277.9L691.7 277.3L680.2 269.8ZM705.5 287.5L708.1 289.3L708.7 288.4L706 286.6ZM676.2 267.8L683 272.7L683.3 272.3L676.3 267.6ZM682.8 272.6L689.7 277.5L690.1 276.9L683.1 272.2ZM687 276.3L696.2 283.1L696.7 282.4L687.4 275.8ZM711.3 295.8L713.1 297.3L713.9 296.3L712 294.8ZM680.3 272.1L692.1 281.8L692.6 281.1L680.5 271.8ZM691.9 281.7L703.7 291.3L704.5 290.4L692.4 281ZM681.6 273.7L695 285.2L695.6 284.4L681.9 273.3ZM670.2 264L681.5 274.2L681.9 273.8L670.2 263.9ZM681.4 274.1L694.6 285.9L695.2 285.2L681.7 273.7ZM676.1 269.7L683.2 276.3L683.6 275.9L676.3 269.4ZM678.7 272.6L689 282.6L689.5 282L679 272.3ZM670 264.2L680.8 275.2L681.2 274.9L670.1 264.1ZM680.7 275.1L693.2 287.9L693.9 287.2L681 274.7ZM676.9 272.6L685.3 282.4L685.9 281.9L677.2 272.4ZM677.8 274.2L687.3 285.8L688 285.2L678.2 273.9ZM708.6 316.1L710.9 319.2L712.1 318.2L709.8 315.2ZM678.8 278L689.6 293.9L690.4 293.3L679.2 277.7ZM676.5 275.3L684.7 288L685.4 287.5L676.8 275.1ZM669.4 264.7L677.7 278L678.1 277.7L669.5 264.6ZM677.6 277.8L687.3 293.3L688.1 292.8L678 277.5ZM669.4 264.7L676.7 277L677 276.8L669.4 264.6ZM674.4 275.2L680.7 287.5L681.3 287.2L674.8 275ZM669 264.9L674.5 277.9L674.9 277.7L669 264.9ZM674.4 277.8L680.9 292.9L681.7 292.6L674.9 277.6ZM668.9 264.9L674.4 278.7L674.9 278.5L669 264.9ZM674.3 278.5L680.8 294.5L681.6 294.2L674.8 278.3ZM668.7 265L673.9 280.9L674.4 280.7L668.8 265ZM671.4 275.5L674.9 287.8L675.6 287.6L671.8 275.4ZM668.4 265.1L671.5 278.5L671.9 278.4L668.5 265.1ZM670.2 274.3L672.5 285.1L673.1 285L670.6 274.2ZM672.5 284.9L674.8 295.8L675.6 295.6L673.1 284.8ZM670.5 277.1L673.1 291.2L673.9 291L670.9 277ZM673.1 291L675.7 305.1L676.9 304.9L673.8 290.8ZM668.9 275.2L670.1 287.1L670.7 287L669.3 275.2ZM668.3 274.5L668.9 285.5L669.5 285.5L668.6 274.4ZM668.9 285.3L669.5 296.3L670.4 296.3L669.5 285.3ZM668 274.1L668.3 284.8L668.9 284.8L668.3 274.1ZM667.2 273.3L666.9 282.9L667.4 282.9L667.5 273.3ZM666.7 272.8L666 281.8L666.6 281.8L667 272.8ZM666.1 281.6L665.4 290.7L666.1 290.7L666.6 281.6ZM666.5 272.5L665.6 281.3L666.2 281.3L666.8 272.5ZM666.1 272.1L664.9 280.4L665.4 280.4L666.4 272.1ZM664.9 280.2L663.8 288.4L664.5 288.5L665.4 280.2ZM665.9 271.9L664.6 279.9L665 280L666.2 271.9ZM664.6 279.7L663.3 287.8L664 287.9L665.1 279.8ZM665.5 271.5L663.9 279.1L664.4 279.2L665.8 271.5ZM665.3 271.3L663.6 278.7L664.1 278.8L665.6 271.3ZM663.7 278.5L661.9 285.9L662.6 286.1L664.1 278.6ZM664.8 270.8L662.7 277.6L663.2 277.7L665.1 270.8Z" fill="#ff8c00"/>
<path d="M693.2 274L705.5 279.9L706 278.9L693.5 273.3ZM686.6 273L695.5 278.2L695.9 277.4L686.9 272.5ZM676.3 267.1L683.2 271.4L683.4 271L676.4 266.9ZM675.4 266.8L681.4 270.7L681.6 270.3L675.6 266.6ZM691.1 277.8L702.4 285.5L703 284.6L691.5 277.2ZM694.8 283L708.1 293.5L708.9 292.4L695.3 282.3ZM670.2 264L681.7 273.8L682 273.4L670.3 263.9ZM694.8 285L708.2 296.5L709.1 295.4L695.4 284.3ZM694.5 285.8L707.7 297.6L708.6 296.6L695.1 285.1ZM683.1 276.2L690.2 282.8L690.7 282.2L683.4 275.8ZM688.8 282.5L699.1 292.5L699.9 291.7L689.4 281.9ZM693.1 287.8L705.7 300.6L706.7 299.6L693.8 287.1ZM675.4 270L681.9 276.9L682.3 276.6L675.6 269.8ZM681.7 276.8L688.2 283.7L688.8 283.2L682.1 276.4ZM669.9 264.3L680.9 276.6L681.3 276.2L670 264.2ZM680.8 276.4L693.6 290.7L694.4 290L681.2 276.1ZM693.5 290.6L706.3 304.9L707.4 303.9L694.2 289.9ZM685.2 282.2L693.6 292L694.4 291.3L685.7 281.8ZM687.2 285.6L696.7 297.2L697.6 296.4L687.8 285.1ZM676.9 273.6L685.4 284.4L686 284L677.2 273.3ZM669.7 264.5L680.8 279.3L681.2 278.9L669.8 264.4ZM680.7 279.1L693.6 296.3L694.5 295.6L681.1 278.8ZM669.6 264.5L680.2 279.4L680.7 279L669.7 264.5ZM680.1 279.2L692.5 296.5L693.4 295.8L680.6 278.9ZM692.4 296.3L704.8 313.6L706.1 312.6L693.3 295.6ZM669.6 264.6L678.9 278.2L679.3 277.9L669.6 264.5ZM689.5 293.7L700.3 309.5L701.6 308.7L690.3 293.1ZM684.6 287.8L692.9 300.4L693.9 299.8L685.3 287.3ZM687.2 293.1L696.8 308.7L698 307.9L688 292.6ZM684.9 291L693.4 305.3L694.5 304.6L685.7 290.5ZM669.3 264.7L676.6 277.7L677 277.5L669.4 264.7ZM676.5 277.5L685 292.6L685.8 292.2L676.9 277.3ZM669.2 264.8L676.5 278.4L677 278.2L669.3 264.7ZM676.4 278.3L685 294.2L685.8 293.7L676.9 278ZM669.1 264.8L675.5 278.2L675.9 278L669.2 264.8ZM675.4 278L682.9 293.5L683.7 293.1L675.8 277.8ZM669 264.9L674.7 277.5L675.2 277.3L669.1 264.8ZM674.7 277.3L681.3 292L682.1 291.7L675.1 277.1ZM681.2 291.8L687.9 306.5L689.1 306L682 291.5ZM680.9 292.7L687.3 307.9L688.5 307.4L681.7 292.4ZM673.3 277L678.7 291.2L679.5 290.9L673.7 276.8ZM678.6 291L684 305.2L685.1 304.8L679.4 290.7ZM672.4 275.5L676.8 287.9L677.5 287.6L672.8 275.3ZM676.7 287.7L681.1 300.1L682.1 299.8L677.4 287.5ZM673.8 280.7L679.8 299.1L680.8 298.8L674.3 280.5ZM679.8 299L685.8 317.4L687.3 316.9L680.7 298.6ZM671.4 274.2L674.7 285.2L675.3 285L671.7 274.1ZM674.6 285L678 295.9L678.8 295.6L675.2 284.8ZM674.8 287.6L678.3 300L679.3 299.7L675.5 287.5ZM668.4 265.1L672.1 279.2L672.5 279.1L668.5 265ZM672 279L676.2 295.4L677.1 295.2L672.5 278.9ZM671.5 278.3L675.1 293.9L675.9 293.7L671.9 278.2ZM670 276.5L672.3 290L673 289.9L670.4 276.5ZM672.2 289.8L674.5 303.3L675.5 303.1L673 289.7ZM669.5 275.3L671.3 287.4L671.9 287.3L669.9 275.3ZM669.3 275.6L670.8 288L671.4 287.9L669.6 275.6ZM670.1 286.9L671.2 298.8L672.2 298.7L670.7 286.8ZM668.6 274.8L669.5 286.3L670.1 286.2L668.9 274.8ZM668.3 284.6L668.7 295.2L669.6 295.2L668.9 284.6ZM667.7 273.8L667.8 284.1L668.4 284.1L668 273.8ZM667.8 283.9L667.9 294.2L668.8 294.2L668.4 283.9ZM667.5 273.5L667.3 283.5L667.9 283.5L667.8 273.5ZM667.3 283.3L667.2 293.2L668.1 293.2L667.9 283.3ZM666.9 282.7L666.6 292.3L667.4 292.3L667.4 282.7ZM667 273L666.5 282.3L667 282.4L667.3 273ZM666.5 282.1L666 291.5L666.7 291.5L667 282.2ZM665.7 281.1L664.8 289.9L665.5 289.9L666.2 281.1ZM666.3 272.3L665.3 280.8L665.8 280.9L666.6 272.3ZM665.7 271.7L664.2 279.5L664.7 279.6L666 271.7ZM664.3 279.3L662.8 287.1L663.5 287.3L664.7 279.4ZM664 278.9L662.4 286.5L663 286.7L664.4 279ZM665.2 271.1L663.3 278.3L663.7 278.4L665.4 271.2ZM663.4 278.1L661.5 285.4L662.1 285.5L663.8 278.2ZM665 270.9L663 278L663.5 278.1L665.2 271ZM663.1 277.8L661.1 284.8L661.7 285L663.5 277.9ZM662.8 277.4L660.7 284.3L661.3 284.5L663.2 277.5Z" fill="#ffa112"/>
<path d="M685.3 284.3L693.8 295.1L694.7 294.4L685.9 283.8ZM693.4 296.2L706.4 313.4L707.7 312.4L694.3 295.5ZM684.9 292.5L693.4 307.6L694.6 306.9L685.7 292ZM684.9 294L693.4 309.9L694.6 309.2L685.7 293.5ZM680.6 287.3L686.8 299.6L687.8 299.1L681.2 287ZM682.8 293.4L690.2 308.9L691.5 308.3L683.6 293ZM680.7 294.4L687.1 310.4L688.4 309.9L681.5 294ZM676.2 295.2L680.4 311.7L681.7 311.3L677.1 295ZM675 293.7L678.7 309.2L679.9 308.9L675.9 293.5ZM671.2 287.2L672.9 299.2L673.9 299.1L671.9 287.1ZM670.7 287.8L672.2 300.2L673.2 300L671.4 287.7ZM669.4 286.1L670.3 297.5L671.3 297.4L670.1 286ZM665.3 280.6L664.3 289.1L665 289.2L665.8 280.7Z" fill="#ffb726"/>
</g>
<path d="M667.6 261.7L631 245.6" stroke="#0020e0" stroke-width="0.9" stroke-dasharray="1 1.6"/>
<clipPath id="bl0"><path d="M503 270L508 270L510 275L509 281L510 291L512 299L515 303L514 305L510 306L505 300L502.4 293L503 283ZM527 303L530 301L533 303L535.6 308L534 314L530 317L527 318.6L523 320.4L527 316L529 312L528 307ZM507 327L514 326L520 331L523 337L520 341L516 335L510 329ZM524 336L531 335L536 343L532 348L528 341Z"/></clipPath>
<path d="M503 270L508 270L510 275L509 281L510 291L512 299L515 303L514 305L510 306L505 300L502.4 293L503 283ZM527 303L530 301L533 303L535.6 308L534 314L530 317L527 318.6L523 320.4L527 316L529 312L528 307ZM507 327L514 326L520 331L523 337L520 341L516 335L510 329ZM524 336L531 335L536 343L532 348L528 341Z" fill="#f00000" stroke="#f00000" stroke-width="0.8" shape-rendering="crispEdges"/>
<g clip-path="url(#bl0)"><path d="M503 270L508 270L510 275L509 281L510 291L512 299L515 303L514 305L510 306L505 300L502.4 293L503 283ZM527 303L530 301L533 303L535.6 308L534 314L530 317L527 318.6L523 320.4L527 316L529 312L528 307ZM507 327L514 326L520 331L523 337L520 341L516 335L510 329ZM524 336L531 335L536 343L532 348L528 341Z" fill="#00006e" transform="translate(-3.4 1.8)" shape-rendering="crispEdges"/></g>
<clipPath id="bl1"><path d="M658.5 277L662 279L668 290L676 303L684 313L688 318L686 319.5L679 311L670 298L662 286ZM688.4 320L690 320.5L692 325.4L690.5 325.8ZM699.5 327L703 326L704.7 330L703 333.5L700 332.5ZM695.4 332.8L697 333.5L698.8 338.7L697.4 338.5ZM706.9 340L709 337.6L716.5 342.4L712 344L709.5 349L709 356L709.6 361.5L708 361.5L706.3 352L706.5 346ZM720.1 347.5L722 347.2L727.5 354L725 355.2ZM730.5 349L733 346.6L738 348.5L745.2 344.6L747.9 348.3L743.7 352.2L738.4 351L736 356L735 362.3L732.8 360L730.6 356Z"/></clipPath>
<path d="M658.5 277L662 279L668 290L676 303L684 313L688 318L686 319.5L679 311L670 298L662 286ZM688.4 320L690 320.5L692 325.4L690.5 325.8ZM699.5 327L703 326L704.7 330L703 333.5L700 332.5ZM695.4 332.8L697 333.5L698.8 338.7L697.4 338.5ZM706.9 340L709 337.6L716.5 342.4L712 344L709.5 349L709 356L709.6 361.5L708 361.5L706.3 352L706.5 346ZM720.1 347.5L722 347.2L727.5 354L725 355.2ZM730.5 349L733 346.6L738 348.5L745.2 344.6L747.9 348.3L743.7 352.2L738.4 351L736 356L735 362.3L732.8 360L730.6 356Z" fill="#f00000" stroke="#f00000" stroke-width="0.8" shape-rendering="crispEdges"/>
<g clip-path="url(#bl1)"><path d="M658.5 277L662 279L668 290L676 303L684 313L688 318L686 319.5L679 311L670 298L662 286ZM688.4 320L690 320.5L692 325.4L690.5 325.8ZM699.5 327L703 326L704.7 330L703 333.5L700 332.5ZM695.4 332.8L697 333.5L698.8 338.7L697.4 338.5ZM706.9 340L709 337.6L716.5 342.4L712 344L709.5 349L709 356L709.6 361.5L708 361.5L706.3 352L706.5 346ZM720.1 347.5L722 347.2L727.5 354L725 355.2ZM730.5 349L733 346.6L738 348.5L745.2 344.6L747.9 348.3L743.7 352.2L738.4 351L736 356L735 362.3L732.8 360L730.6 356Z" fill="#00006e" transform="translate(2.4 2.2)" shape-rendering="crispEdges"/></g>
<circle cx="667.6" cy="261.7" r="4.4" fill="#fff"/>
<path d="M519.1 74L514.5 81.5L512.2 87.2L513.3 96.4L516.8 99.9L520.2 106.8L523.7 110.9L529.4 111.8L534 107.9L538.6 106.8L542.1 105.6L543.2 101L547.8 97.6L550.1 93L554.7 89.5L554 81.5L553.1 74M507.4 85.2L509 84.6L509.2 86.4L507.8 86.8ZM478 179.2L490.3 179.2L492.6 175.3L496.1 173.4L503 177.6L509.4 181.5L520.2 178L532.9 172.3L543.2 165.4L548.5 161.5L549 155L551.3 149.3L553.6 147L552.4 144L549 144.7L546.2 141.7L549 139L550.1 135.5L553.6 134.4L574.3 133.2L574.7 145.9L582.3 145.9L583 136.7L586.2 133.9L589.2 131.6L591.5 134.4L599.5 136.7L606.4 138.5L613.3 137.1L620.2 138.3L624.8 141.3L629.4 143.1L636.3 141.7L640.9 139L645.5 138.5L651.3 135.5L655.9 132.5L659.3 134.4L663.9 130.9L666.9 126.3L671.5 125.2L676.1 124L678.4 127.5L681.8 126.3L683 121.7L685.3 117.1L692.2 117.1L694.5 120.6L697.9 120.1L699.1 123.3L701.4 124L702.5 129.8L703.7 136.7L696.8 137.8L699.1 145.9L706 142.4L707.1 140.1L711.7 144.7L715.2 143.1L713.3 138.5L715.9 137.1L717.5 141.3L726.7 136.7L723.2 129.8L714 133.2L708.7 129.8L715.2 126.3L708.7 110.2L720.2 104.5L728.5 122.4L734 124L735.9 127.5L728.5 130.9L730.1 133.2L740.5 128.6L735.9 119.4L733.6 116L737 114.8L739.3 119.4L746.2 116L743.9 112.5L740.5 113.7L733.1 102.2L739.3 96.4L753.1 107.9L759.3 101L752 98.7L741.6 89.5L745.1 80.3L752 79.2L758.9 80.3L772.6 84.9L773.8 74M768 74L769.2 80.3L765.5 79L764 74M669.6 112.3L670.8 117.1" fill="none" stroke="#000" stroke-width="1.3" stroke-linejoin="round" stroke-linecap="round"/>
</g>
<path d="M70.7 74.4V67.2M70.7 449V456.2M59 86.11H51.8M433.5 86.11H440.7M82.41 74.4V67.2M82.41 449V456.2M59 97.81H51.8M433.5 97.81H440.7M94.12 74.4V67.2M94.12 449V456.2M59 109.52H51.8M433.5 109.52H440.7M105.82 74.4V67.2M105.82 449V456.2M59 121.22H51.8M433.5 121.22H440.7M117.53 74.4V67.2M117.53 449V456.2M59 132.93H51.8M433.5 132.93H440.7M129.23 74.4V67.2M129.23 449V456.2M59 144.63H51.8M433.5 144.63H440.7M140.94 74.4V67.2M140.94 449V456.2M59 156.34H51.8M433.5 156.34H440.7M164.34 74.4V67.2M164.34 449V456.2M59 179.75H51.8M433.5 179.75H440.7M176.05 74.4V67.2M176.05 449V456.2M59 191.45H51.8M433.5 191.45H440.7M187.75 74.4V67.2M187.75 449V456.2M59 203.16H51.8M433.5 203.16H440.7M199.46 74.4V67.2M199.46 449V456.2M59 214.86H51.8M433.5 214.86H440.7M211.16 74.4V67.2M211.16 449V456.2M59 226.56H51.8M433.5 226.56H440.7M222.87 74.4V67.2M222.87 449V456.2M59 238.27H51.8M433.5 238.27H440.7M234.57 74.4V67.2M234.57 449V456.2M59 249.97H51.8M433.5 249.97H440.7M257.99 74.4V67.2M257.99 449V456.2M59 273.38H51.8M433.5 273.38H440.7M269.69 74.4V67.2M269.69 449V456.2M59 285.09H51.8M433.5 285.09H440.7M281.39 74.4V67.2M281.39 449V456.2M59 296.8H51.8M433.5 296.8H440.7M293.1 74.4V67.2M293.1 449V456.2M59 308.5H51.8M433.5 308.5H440.7M304.81 74.4V67.2M304.81 449V456.2M59 320.21H51.8M433.5 320.21H440.7M316.51 74.4V67.2M316.51 449V456.2M59 331.91H51.8M433.5 331.91H440.7M328.21 74.4V67.2M328.21 449V456.2M59 343.62H51.8M433.5 343.62H440.7M351.62 74.4V67.2M351.62 449V456.2M59 367.02H51.8M433.5 367.02H440.7M363.33 74.4V67.2M363.33 449V456.2M59 378.73H51.8M433.5 378.73H440.7M375.04 74.4V67.2M375.04 449V456.2M59 390.44H51.8M433.5 390.44H440.7M386.74 74.4V67.2M386.74 449V456.2M59 402.14H51.8M433.5 402.14H440.7M398.44 74.4V67.2M398.44 449V456.2M59 413.85H51.8M433.5 413.85H440.7M410.15 74.4V67.2M410.15 449V456.2M59 425.55H51.8M433.5 425.55H440.7M421.86 74.4V67.2M421.86 449V456.2M59 437.25H51.8M433.5 437.25H440.7" stroke="#000" stroke-width="1.3" fill="none"/>
<path d="M59 74.4V60M59 449V463.4M59 74.4H44.6M433.5 74.4H447.9M152.64 74.4V60M152.64 449V463.4M59 168.04H44.6M433.5 168.04H447.9M246.28 74.4V60M246.28 449V463.4M59 261.68H44.6M433.5 261.68H447.9M339.92 74.4V60M339.92 449V463.4M59 355.32H44.6M433.5 355.32H447.9M433.56 74.4V60M433.56 449V463.4M59 448.96H44.6M433.5 448.96H447.9" stroke="#000" stroke-width="2" fill="none"/>
<rect x="59" y="74.4" width="374.5" height="374.6" fill="none" stroke="#000" stroke-width="2"/>
<path d="M492 74.4V67.2M492 449V456.2M480.3 86.11H473.1M854.8 86.11H862M503.71 74.4V67.2M503.71 449V456.2M480.3 97.81H473.1M854.8 97.81H862M515.41 74.4V67.2M515.41 449V456.2M480.3 109.52H473.1M854.8 109.52H862M527.12 74.4V67.2M527.12 449V456.2M480.3 121.22H473.1M854.8 121.22H862M538.83 74.4V67.2M538.83 449V456.2M480.3 132.93H473.1M854.8 132.93H862M550.53 74.4V67.2M550.53 449V456.2M480.3 144.63H473.1M854.8 144.63H862M562.24 74.4V67.2M562.24 449V456.2M480.3 156.34H473.1M854.8 156.34H862M585.64 74.4V67.2M585.64 449V456.2M480.3 179.75H473.1M854.8 179.75H862M597.35 74.4V67.2M597.35 449V456.2M480.3 191.45H473.1M854.8 191.45H862M609.06 74.4V67.2M609.06 449V456.2M480.3 203.16H473.1M854.8 203.16H862M620.76 74.4V67.2M620.76 449V456.2M480.3 214.86H473.1M854.8 214.86H862M632.47 74.4V67.2M632.47 449V456.2M480.3 226.56H473.1M854.8 226.56H862M644.17 74.4V67.2M644.17 449V456.2M480.3 238.27H473.1M854.8 238.27H862M655.88 74.4V67.2M655.88 449V456.2M480.3 249.97H473.1M854.8 249.97H862M679.29 74.4V67.2M679.29 449V456.2M480.3 273.38H473.1M854.8 273.38H862M690.99 74.4V67.2M690.99 449V456.2M480.3 285.09H473.1M854.8 285.09H862M702.7 74.4V67.2M702.7 449V456.2M480.3 296.8H473.1M854.8 296.8H862M714.4 74.4V67.2M714.4 449V456.2M480.3 308.5H473.1M854.8 308.5H862M726.11 74.4V67.2M726.11 449V456.2M480.3 320.21H473.1M854.8 320.21H862M737.81 74.4V67.2M737.81 449V456.2M480.3 331.91H473.1M854.8 331.91H862M749.51 74.4V67.2M749.51 449V456.2M480.3 343.62H473.1M854.8 343.62H862M772.92 74.4V67.2M772.92 449V456.2M480.3 367.02H473.1M854.8 367.02H862M784.63 74.4V67.2M784.63 449V456.2M480.3 378.73H473.1M854.8 378.73H862M796.34 74.4V67.2M796.34 449V456.2M480.3 390.44H473.1M854.8 390.44H862M808.04 74.4V67.2M808.04 449V456.2M480.3 402.14H473.1M854.8 402.14H862M819.75 74.4V67.2M819.75 449V456.2M480.3 413.85H473.1M854.8 413.85H862M831.45 74.4V67.2M831.45 449V456.2M480.3 425.55H473.1M854.8 425.55H862M843.15 74.4V67.2M843.15 449V456.2M480.3 437.25H473.1M854.8 437.25H862" stroke="#000" stroke-width="1.3" fill="none"/>
<path d="M480.3 74.4V60M480.3 449V463.4M480.3 74.4H465.9M854.8 74.4H869.2M573.94 74.4V60M573.94 449V463.4M480.3 168.04H465.9M854.8 168.04H869.2M667.58 74.4V60M667.58 449V463.4M480.3 261.68H465.9M854.8 261.68H869.2M761.22 74.4V60M761.22 449V463.4M480.3 355.32H465.9M854.8 355.32H869.2M854.86 74.4V60M854.86 449V463.4M480.3 448.96H465.9M854.8 448.96H869.2" stroke="#000" stroke-width="2" fill="none"/>
<rect x="480.3" y="74.4" width="374.5" height="374.6" fill="none" stroke="#000" stroke-width="2"/>
<filter id="nf" x="0" y="0" width="870" height="570" filterUnits="userSpaceOnUse"><feOffset dx="0" dy="0"/></filter>
<g filter="url(#nf)">
<text x="59.5" y="24.6" font-size="33.7" text-anchor="start" font-family="Liberation Sans, sans-serif" font-weight="bold" textLength="524.2" lengthAdjust="spacingAndGlyphs" stroke="#000" stroke-width="0.55" stroke-linejoin="round">Fukuoka, 20190113 [13:05, el=0.0]</text>
<text x="60" y="58.6" font-size="29.2" text-anchor="start" font-family="Liberation Sans, sans-serif" font-weight="bold" textLength="118.5" lengthAdjust="spacingAndGlyphs" stroke="#000" stroke-width="0.55" stroke-linejoin="round">SNR [dB]</text>
<text x="482.6" y="58.6" font-size="29.2" text-anchor="start" font-family="Liberation Sans, sans-serif" font-weight="bold" textLength="227.2" lengthAdjust="spacingAndGlyphs" stroke="#000" stroke-width="0.55" stroke-linejoin="round">Doppler Velocity</text>
<text x="716.6" y="58.6" font-size="29.2" text-anchor="start" font-family="Liberation Sans, sans-serif" font-weight="bold" textLength="72.6" lengthAdjust="spacingAndGlyphs" stroke="#000" stroke-width="0.55" stroke-linejoin="round">[m/s]</text>
<text x="30.7" y="84.9" font-size="29.9" text-anchor="end" font-family="Liberation Sans, sans-serif" font-weight="bold" textLength="15.54" lengthAdjust="spacingAndGlyphs" stroke="#000" stroke-width="0.55" stroke-linejoin="round">8</text>
<text x="30.7" y="178.54" font-size="29.9" text-anchor="end" font-family="Liberation Sans, sans-serif" font-weight="bold" textLength="15.54" lengthAdjust="spacingAndGlyphs" stroke="#000" stroke-width="0.55" stroke-linejoin="round">4</text>
<text x="30.7" y="272.18" font-size="29.9" text-anchor="end" font-family="Liberation Sans, sans-serif" font-weight="bold" textLength="15.54" lengthAdjust="spacingAndGlyphs" stroke="#000" stroke-width="0.55" stroke-linejoin="round">0</text>
<text x="30.7" y="365.82" font-size="29.9" text-anchor="end" font-family="Liberation Sans, sans-serif" font-weight="bold" textLength="31.87" lengthAdjust="spacingAndGlyphs" stroke="#000" stroke-width="0.55" stroke-linejoin="round">−4</text>
<text x="30.7" y="459.46" font-size="29.9" text-anchor="end" font-family="Liberation Sans, sans-serif" font-weight="bold" textLength="31.87" lengthAdjust="spacingAndGlyphs" stroke="#000" stroke-width="0.55" stroke-linejoin="round">−8</text>
<text x="59" y="500.2" font-size="29.9" text-anchor="middle" font-family="Liberation Sans, sans-serif" font-weight="bold" textLength="31.87" lengthAdjust="spacingAndGlyphs" stroke="#000" stroke-width="0.55" stroke-linejoin="round">−8</text>
<text x="152.64" y="500.2" font-size="29.9" text-anchor="middle" font-family="Liberation Sans, sans-serif" font-weight="bold" textLength="31.87" lengthAdjust="spacingAndGlyphs" stroke="#000" stroke-width="0.55" stroke-linejoin="round">−4</text>
<text x="246.28" y="500.2" font-size="29.9" text-anchor="middle" font-family="Liberation Sans, sans-serif" font-weight="bold" textLength="15.54" lengthAdjust="spacingAndGlyphs" stroke="#000" stroke-width="0.55" stroke-linejoin="round">0</text>
<text x="339.92" y="500.2" font-size="29.9" text-anchor="middle" font-family="Liberation Sans, sans-serif" font-weight="bold" textLength="15.54" lengthAdjust="spacingAndGlyphs" stroke="#000" stroke-width="0.55" stroke-linejoin="round">4</text>
<text x="433.56" y="500.2" font-size="29.9" text-anchor="middle" font-family="Liberation Sans, sans-serif" font-weight="bold" textLength="15.54" lengthAdjust="spacingAndGlyphs" stroke="#000" stroke-width="0.55" stroke-linejoin="round">8</text>
<text x="480.3" y="500.2" font-size="29.9" text-anchor="middle" font-family="Liberation Sans, sans-serif" font-weight="bold" textLength="31.87" lengthAdjust="spacingAndGlyphs" stroke="#000" stroke-width="0.55" stroke-linejoin="round">−8</text>
<text x="573.94" y="500.2" font-size="29.9" text-anchor="middle" font-family="Liberation Sans, sans-serif" font-weight="bold" textLength="31.87" lengthAdjust="spacingAndGlyphs" stroke="#000" stroke-width="0.55" stroke-linejoin="round">−4</text>
<text x="667.58" y="500.2" font-size="29.9" text-anchor="middle" font-family="Liberation Sans, sans-serif" font-weight="bold" textLength="15.54" lengthAdjust="spacingAndGlyphs" stroke="#000" stroke-width="0.55" stroke-linejoin="round">0</text>
<text x="761.22" y="500.2" font-size="29.9" text-anchor="middle" font-family="Liberation Sans, sans-serif" font-weight="bold" textLength="15.54" lengthAdjust="spacingAndGlyphs" stroke="#000" stroke-width="0.55" stroke-linejoin="round">4</text>
<text x="854.86" y="500.2" font-size="29.9" text-anchor="middle" font-family="Liberation Sans, sans-serif" font-weight="bold" textLength="15.54" lengthAdjust="spacingAndGlyphs" stroke="#000" stroke-width="0.55" stroke-linejoin="round">8</text>
<rect x="59" y="508.6" width="9.1" height="11" fill="#000000"/>
<rect x="68.1" y="508.6" width="9.1" height="11" fill="#000000"/>
<rect x="77.2" y="508.6" width="9.1" height="11" fill="#000000"/>
<rect x="86.3" y="508.6" width="9.1" height="11" fill="#000000"/>
<rect x="95.4" y="508.6" width="9.1" height="11" fill="#000000"/>
<rect x="104.5" y="508.6" width="9.1" height="11" fill="#000000"/>
<rect x="113.6" y="508.6" width="9.1" height="11" fill="#000000"/>
<rect x="122.7" y="508.6" width="9.1" height="11" fill="#000000"/>
<rect x="131.8" y="508.6" width="9.1" height="11" fill="#000000"/>
<rect x="140.9" y="508.6" width="9.1" height="11" fill="#000000"/>
<rect x="150" y="508.6" width="9.1" height="11" fill="#0a0a0a"/>
<rect x="159.1" y="508.6" width="9.1" height="11" fill="#141414"/>
<rect x="168.2" y="508.6" width="9.1" height="11" fill="#1d1d1d"/>
<rect x="177.3" y="508.6" width="9.1" height="11" fill="#272727"/>
<rect x="186.4" y="508.6" width="9.1" height="11" fill="#313131"/>
<rect x="195.5" y="508.6" width="9.1" height="11" fill="#3b3b3b"/>
<rect x="204.6" y="508.6" width="9.1" height="11" fill="#454545"/>
<rect x="213.7" y="508.6" width="9.1" height="11" fill="#4e4e4e"/>
<rect x="222.8" y="508.6" width="9.1" height="11" fill="#585858"/>
<rect x="231.9" y="508.6" width="9.1" height="11" fill="#626262"/>
<rect x="241" y="508.6" width="9.1" height="11" fill="#6c6c6c"/>
<rect x="250.1" y="508.6" width="9.1" height="11" fill="#767676"/>
<rect x="259.2" y="508.6" width="9.1" height="11" fill="#808080"/>
<rect x="268.3" y="508.6" width="9.1" height="11" fill="#898989"/>
<rect x="277.4" y="508.6" width="9.1" height="11" fill="#939393"/>
<rect x="286.5" y="508.6" width="9.1" height="11" fill="#9d9d9d"/>
<rect x="295.6" y="508.6" width="9.1" height="11" fill="#a7a7a7"/>
<rect x="304.7" y="508.6" width="9.1" height="11" fill="#b1b1b1"/>
<rect x="313.8" y="508.6" width="9.1" height="11" fill="#bababa"/>
<rect x="322.9" y="508.6" width="9.1" height="11" fill="#c4c4c4"/>
<rect x="332" y="508.6" width="9.1" height="11" fill="#cecece"/>
<rect x="341.1" y="508.6" width="9.1" height="11" fill="#d8d8d8"/>
<rect x="350.2" y="508.6" width="9.1" height="11" fill="#e2e2e2"/>
<rect x="359.3" y="508.6" width="9.1" height="11" fill="#ebebeb"/>
<rect x="368.4" y="508.6" width="9.1" height="11" fill="#f5f5f5"/>
<rect x="377.5" y="508.6" width="9.1" height="11" fill="#ffffff"/>
<path d="M59 508.6V519.6M68.1 508.6V519.6M77.2 508.6V519.6M86.3 508.6V519.6M95.4 508.6V519.6M104.5 508.6V519.6M113.6 508.6V519.6M122.7 508.6V519.6M131.8 508.6V519.6M140.9 508.6V519.6M150 508.6V519.6M159.1 508.6V519.6M168.2 508.6V519.6M177.3 508.6V519.6M186.4 508.6V519.6M195.5 508.6V519.6M204.6 508.6V519.6M213.7 508.6V519.6M222.8 508.6V519.6M231.9 508.6V519.6M241 508.6V519.6M250.1 508.6V519.6M259.2 508.6V519.6M268.3 508.6V519.6M277.4 508.6V519.6M286.5 508.6V519.6M295.6 508.6V519.6M304.7 508.6V519.6M313.8 508.6V519.6M322.9 508.6V519.6M332 508.6V519.6M341.1 508.6V519.6M350.2 508.6V519.6M359.3 508.6V519.6M368.4 508.6V519.6M377.5 508.6V519.6M386.6 508.6V519.6" stroke="#000" stroke-width="2.3" fill="none"/>
<path d="M58 509.3H387.6M58 518.9H387.6" stroke="#000" stroke-width="1.6" fill="none"/>
<path d="M386.6 509L395.2 514.1L386.6 519.2Z" fill="#ff0" stroke="#000" stroke-width="1.6" stroke-linejoin="miter"/>
<path d="M66.95 519.6L69.25 519.6L68.45 526.8L67.75 526.8ZM76.05 519.6L78.35 519.6L77.55 526.8L76.85 526.8ZM85.15 519.6L87.45 519.6L86.65 526.8L85.95 526.8ZM94.25 519.6L96.55 519.6L95.75 526.8L95.05 526.8ZM112.45 519.6L114.75 519.6L113.95 526.8L113.25 526.8ZM121.55 519.6L123.85 519.6L123.05 526.8L122.35 526.8ZM130.65 519.6L132.95 519.6L132.15 526.8L131.45 526.8ZM139.75 519.6L142.05 519.6L141.25 526.8L140.55 526.8ZM157.95 519.6L160.25 519.6L159.45 526.8L158.75 526.8ZM167.05 519.6L169.35 519.6L168.55 526.8L167.85 526.8ZM176.15 519.6L178.45 519.6L177.65 526.8L176.95 526.8ZM185.25 519.6L187.55 519.6L186.75 526.8L186.05 526.8ZM203.45 519.6L205.75 519.6L204.95 526.8L204.25 526.8ZM212.55 519.6L214.85 519.6L214.05 526.8L213.35 526.8ZM221.65 519.6L223.95 519.6L223.15 526.8L222.45 526.8ZM230.75 519.6L233.05 519.6L232.25 526.8L231.55 526.8ZM248.95 519.6L251.25 519.6L250.45 526.8L249.75 526.8ZM258.05 519.6L260.35 519.6L259.55 526.8L258.85 526.8ZM267.15 519.6L269.45 519.6L268.65 526.8L267.95 526.8ZM276.25 519.6L278.55 519.6L277.75 526.8L277.05 526.8ZM294.45 519.6L296.75 519.6L295.95 526.8L295.25 526.8ZM303.55 519.6L305.85 519.6L305.05 526.8L304.35 526.8ZM312.65 519.6L314.95 519.6L314.15 526.8L313.45 526.8ZM321.75 519.6L324.05 519.6L323.25 526.8L322.55 526.8ZM339.95 519.6L342.25 519.6L341.45 526.8L340.75 526.8ZM349.05 519.6L351.35 519.6L350.55 526.8L349.85 526.8ZM358.15 519.6L360.45 519.6L359.65 526.8L358.95 526.8ZM367.25 519.6L369.55 519.6L368.75 526.8L368.05 526.8ZM385.45 519.6L387.75 519.6L386.95 526.8L386.25 526.8Z" fill="#000"/>
<path d="M59 519.6V533.2M104.5 519.6V533.2M150 519.6V533.2M195.5 519.6V533.2M241 519.6V533.2M286.5 519.6V533.2M332 519.6V533.2M377.5 519.6V533.2" stroke="#000" stroke-width="2.1" fill="none" stroke-linecap="round"/>
<text x="59" y="570.2" font-size="29.9" text-anchor="middle" font-family="Liberation Sans, sans-serif" font-weight="bold" textLength="15.54" lengthAdjust="spacingAndGlyphs" stroke="#000" stroke-width="0.55" stroke-linejoin="round">0</text>
<text x="104.5" y="570.2" font-size="29.9" text-anchor="middle" font-family="Liberation Sans, sans-serif" font-weight="bold" textLength="38.86" lengthAdjust="spacingAndGlyphs" stroke="#000" stroke-width="0.55" stroke-linejoin="round">2.5</text>
<text x="150" y="570.2" font-size="29.9" text-anchor="middle" font-family="Liberation Sans, sans-serif" font-weight="bold" textLength="15.54" lengthAdjust="spacingAndGlyphs" stroke="#000" stroke-width="0.55" stroke-linejoin="round">5</text>
<text x="195.5" y="570.2" font-size="29.9" text-anchor="middle" font-family="Liberation Sans, sans-serif" font-weight="bold" textLength="38.86" lengthAdjust="spacingAndGlyphs" stroke="#000" stroke-width="0.55" stroke-linejoin="round">7.5</text>
<text x="241" y="570.2" font-size="29.9" text-anchor="middle" font-family="Liberation Sans, sans-serif" font-weight="bold" textLength="31.09" lengthAdjust="spacingAndGlyphs" stroke="#000" stroke-width="0.55" stroke-linejoin="round">10</text>
<text x="286.5" y="570.2" font-size="29.9" text-anchor="middle" font-family="Liberation Sans, sans-serif" font-weight="bold" textLength="54.4" lengthAdjust="spacingAndGlyphs" stroke="#000" stroke-width="0.55" stroke-linejoin="round">12.5</text>
<text x="332" y="570.2" font-size="29.9" text-anchor="middle" font-family="Liberation Sans, sans-serif" font-weight="bold" textLength="31.09" lengthAdjust="spacingAndGlyphs" stroke="#000" stroke-width="0.55" stroke-linejoin="round">15</text>
<text x="377.5" y="570.2" font-size="29.9" text-anchor="middle" font-family="Liberation Sans, sans-serif" font-weight="bold" textLength="54.4" lengthAdjust="spacingAndGlyphs" stroke="#000" stroke-width="0.55" stroke-linejoin="round">17.5</text>
<rect x="479.85" y="508.6" width="8.65" height="11" fill="#ccffff"/>
<rect x="488.5" y="508.6" width="8.65" height="11" fill="#b2ffff"/>
<rect x="497.15" y="508.6" width="8.65" height="11" fill="#99ffff"/>
<rect x="505.8" y="508.6" width="8.65" height="11" fill="#7fffff"/>
<rect x="514.45" y="508.6" width="8.65" height="11" fill="#66ffff"/>
<rect x="523.1" y="508.6" width="8.65" height="11" fill="#52e6ff"/>
<rect x="531.75" y="508.6" width="8.65" height="11" fill="#3dccff"/>
<rect x="540.4" y="508.6" width="8.65" height="11" fill="#29b3ff"/>
<rect x="549.05" y="508.6" width="8.65" height="11" fill="#1499ff"/>
<rect x="557.7" y="508.6" width="8.65" height="11" fill="#0a80ff"/>
<rect x="566.35" y="508.6" width="8.65" height="11" fill="#0566ff"/>
<rect x="575" y="508.6" width="8.65" height="11" fill="#004cff"/>
<rect x="583.65" y="508.6" width="8.65" height="11" fill="#0026ff"/>
<rect x="592.3" y="508.6" width="8.65" height="11" fill="#0000ff"/>
<rect x="600.95" y="508.6" width="8.65" height="11" fill="#0000e0"/>
<rect x="609.6" y="508.6" width="8.65" height="11" fill="#0000c4"/>
<rect x="618.25" y="508.6" width="8.65" height="11" fill="#0000a6"/>
<rect x="626.9" y="508.6" width="8.65" height="11" fill="#00008a"/>
<rect x="635.55" y="508.6" width="8.65" height="11" fill="#00006e"/>
<rect x="644.2" y="508.6" width="8.65" height="11" fill="#ee0000"/>
<rect x="652.85" y="508.6" width="8.65" height="11" fill="#ff1a00"/>
<rect x="661.5" y="508.6" width="8.65" height="11" fill="#ff3300"/>
<rect x="670.15" y="508.6" width="8.65" height="11" fill="#ff4d00"/>
<rect x="678.8" y="508.6" width="8.65" height="11" fill="#ff6600"/>
<rect x="687.45" y="508.6" width="8.65" height="11" fill="#ff7a00"/>
<rect x="696.1" y="508.6" width="8.65" height="11" fill="#ff8c00"/>
<rect x="704.75" y="508.6" width="8.65" height="11" fill="#ffa112"/>
<rect x="713.4" y="508.6" width="8.65" height="11" fill="#ffb726"/>
<rect x="722.05" y="508.6" width="8.65" height="11" fill="#ffc933"/>
<rect x="730.7" y="508.6" width="8.65" height="11" fill="#ffdb40"/>
<rect x="739.35" y="508.6" width="8.65" height="11" fill="#fff04d"/>
<rect x="748" y="508.6" width="8.65" height="11" fill="#ffff5c"/>
<rect x="756.65" y="508.6" width="8.65" height="11" fill="#ffff6e"/>
<rect x="765.3" y="508.6" width="8.65" height="11" fill="#ffff80"/>
<rect x="773.95" y="508.6" width="8.65" height="11" fill="#ffff94"/>
<rect x="782.6" y="508.6" width="8.65" height="11" fill="#ffffa8"/>
<rect x="791.25" y="508.6" width="8.65" height="11" fill="#ffffbd"/>
<rect x="799.9" y="508.6" width="8.65" height="11" fill="#ffffd1"/>
<path d="M479.85 508.6V519.6M488.5 508.6V519.6M497.15 508.6V519.6M505.8 508.6V519.6M514.45 508.6V519.6M523.1 508.6V519.6M531.75 508.6V519.6M540.4 508.6V519.6M549.05 508.6V519.6M557.7 508.6V519.6M566.35 508.6V519.6M575 508.6V519.6M583.65 508.6V519.6M592.3 508.6V519.6M600.95 508.6V519.6M609.6 508.6V519.6M618.25 508.6V519.6M626.9 508.6V519.6M635.55 508.6V519.6M644.2 508.6V519.6M652.85 508.6V519.6M661.5 508.6V519.6M670.15 508.6V519.6M678.8 508.6V519.6M687.45 508.6V519.6M696.1 508.6V519.6M704.75 508.6V519.6M713.4 508.6V519.6M722.05 508.6V519.6M730.7 508.6V519.6M739.35 508.6V519.6M748 508.6V519.6M756.65 508.6V519.6M765.3 508.6V519.6M773.95 508.6V519.6M782.6 508.6V519.6M791.25 508.6V519.6M799.9 508.6V519.6M808.55 508.6V519.6" stroke="#000" stroke-width="2.3" fill="none"/>
<path d="M478.85 509.3H809.55M478.85 518.9H809.55" stroke="#000" stroke-width="1.6" fill="none"/>
<path d="M479.85 509L471.25 514.1L479.85 519.2Z" fill="#e5ffff" stroke="#000" stroke-width="1.6"/>
<path d="M808.55 509L817.15 514.1L808.55 519.2Z" fill="#ffffe8" stroke="#000" stroke-width="1.6"/>
<path d="M478.7 519.6L481 519.6L480.2 526.8L479.5 526.8ZM487.35 519.6L489.65 519.6L488.85 526.8L488.15 526.8ZM496 519.6L498.3 519.6L497.5 526.8L496.8 526.8ZM513.3 519.6L515.6 519.6L514.8 526.8L514.1 526.8ZM521.95 519.6L524.25 519.6L523.45 526.8L522.75 526.8ZM530.6 519.6L532.9 519.6L532.1 526.8L531.4 526.8ZM539.25 519.6L541.55 519.6L540.75 526.8L540.05 526.8ZM547.9 519.6L550.2 519.6L549.4 526.8L548.7 526.8ZM556.55 519.6L558.85 519.6L558.05 526.8L557.35 526.8ZM565.2 519.6L567.5 519.6L566.7 526.8L566 526.8ZM582.5 519.6L584.8 519.6L584 526.8L583.3 526.8ZM591.15 519.6L593.45 519.6L592.65 526.8L591.95 526.8ZM599.8 519.6L602.1 519.6L601.3 526.8L600.6 526.8ZM608.45 519.6L610.75 519.6L609.95 526.8L609.25 526.8ZM617.1 519.6L619.4 519.6L618.6 526.8L617.9 526.8ZM625.75 519.6L628.05 519.6L627.25 526.8L626.55 526.8ZM634.4 519.6L636.7 519.6L635.9 526.8L635.2 526.8ZM651.7 519.6L654 519.6L653.2 526.8L652.5 526.8ZM660.35 519.6L662.65 519.6L661.85 526.8L661.15 526.8ZM669 519.6L671.3 519.6L670.5 526.8L669.8 526.8ZM677.65 519.6L679.95 519.6L679.15 526.8L678.45 526.8ZM686.3 519.6L688.6 519.6L687.8 526.8L687.1 526.8ZM694.95 519.6L697.25 519.6L696.45 526.8L695.75 526.8ZM703.6 519.6L705.9 519.6L705.1 526.8L704.4 526.8ZM720.9 519.6L723.2 519.6L722.4 526.8L721.7 526.8ZM729.55 519.6L731.85 519.6L731.05 526.8L730.35 526.8ZM738.2 519.6L740.5 519.6L739.7 526.8L739 526.8ZM746.85 519.6L749.15 519.6L748.35 526.8L747.65 526.8ZM755.5 519.6L757.8 519.6L757 526.8L756.3 526.8ZM764.15 519.6L766.45 519.6L765.65 526.8L764.95 526.8ZM772.8 519.6L775.1 519.6L774.3 526.8L773.6 526.8ZM790.1 519.6L792.4 519.6L791.6 526.8L790.9 526.8ZM798.75 519.6L801.05 519.6L800.25 526.8L799.55 526.8ZM807.4 519.6L809.7 519.6L808.9 526.8L808.2 526.8Z" fill="#000"/>
<path d="M505.8 519.6V533.2M575 519.6V533.2M644.2 519.6V533.2M713.4 519.6V533.2M782.6 519.6V533.2" stroke="#000" stroke-width="2.1" fill="none" stroke-linecap="round"/>
<text x="505.8" y="570.2" font-size="29.9" text-anchor="middle" font-family="Liberation Sans, sans-serif" font-weight="bold" textLength="31.87" lengthAdjust="spacingAndGlyphs" stroke="#000" stroke-width="0.55" stroke-linejoin="round">−8</text>
<text x="575" y="570.2" font-size="29.9" text-anchor="middle" font-family="Liberation Sans, sans-serif" font-weight="bold" textLength="31.87" lengthAdjust="spacingAndGlyphs" stroke="#000" stroke-width="0.55" stroke-linejoin="round">−4</text>
<text x="644.2" y="570.2" font-size="29.9" text-anchor="middle" font-family="Liberation Sans, sans-serif" font-weight="bold" textLength="15.54" lengthAdjust="spacingAndGlyphs" stroke="#000" stroke-width="0.55" stroke-linejoin="round">0</text>
<text x="713.4" y="570.2" font-size="29.9" text-anchor="middle" font-family="Liberation Sans, sans-serif" font-weight="bold" textLength="15.54" lengthAdjust="spacingAndGlyphs" stroke="#000" stroke-width="0.55" stroke-linejoin="round">4</text>
<text x="782.6" y="570.2" font-size="29.9" text-anchor="middle" font-family="Liberation Sans, sans-serif" font-weight="bold" textLength="15.54" lengthAdjust="spacingAndGlyphs" stroke="#000" stroke-width="0.55" stroke-linejoin="round">8</text>
</g>
</svg>
</body></html>
